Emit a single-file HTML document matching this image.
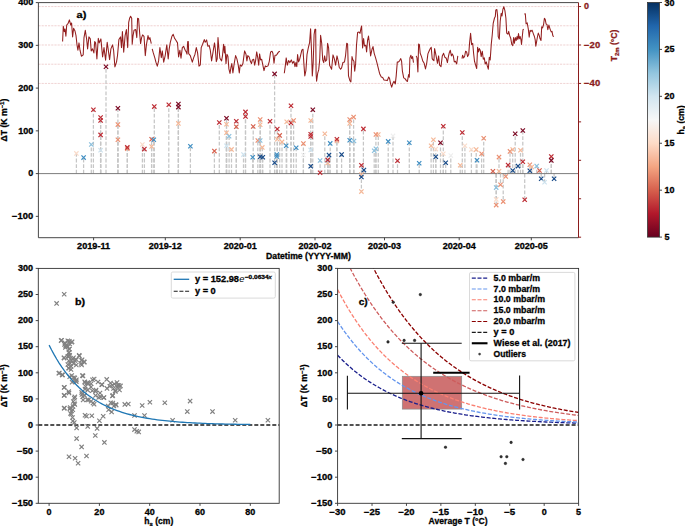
<!DOCTYPE html>
<html><head><meta charset="utf-8"><style>html,body{margin:0;padding:0;background:#fff;}svg{display:block;}</style></head>
<body><svg width="685" height="526" viewBox="0 0 685 526">
<rect width="685" height="526" fill="#fff"/>
<line x1="38.4" x2="578.5" y1="6.55" y2="6.55" stroke="#ebc4c4" stroke-width="0.75" stroke-dasharray="2.2 1.0"/>
<line x1="38.4" x2="578.5" y1="25.77" y2="25.77" stroke="#ebc4c4" stroke-width="0.75" stroke-dasharray="2.2 1.0"/>
<line x1="38.4" x2="578.5" y1="44.99" y2="44.99" stroke="#ebc4c4" stroke-width="0.75" stroke-dasharray="2.2 1.0"/>
<line x1="38.4" x2="578.5" y1="64.21" y2="64.21" stroke="#ebc4c4" stroke-width="0.75" stroke-dasharray="2.2 1.0"/>
<line x1="38.4" x2="578.5" y1="83.43" y2="83.43" stroke="#ebc4c4" stroke-width="0.75" stroke-dasharray="2.2 1.0"/>
<line x1="76.4" x2="76.4" y1="173.60" y2="153.40" stroke="#c6c6c6" stroke-width="1.25" stroke-dasharray="3.8 1.8"/>
<line x1="83.6" x2="83.6" y1="173.60" y2="157.60" stroke="#c6c6c6" stroke-width="1.25" stroke-dasharray="3.8 1.8"/>
<line x1="91.3" x2="91.3" y1="173.60" y2="144.50" stroke="#c6c6c6" stroke-width="1.25" stroke-dasharray="3.8 1.8"/>
<line x1="93.4" x2="93.4" y1="173.60" y2="109.70" stroke="#c6c6c6" stroke-width="1.25" stroke-dasharray="3.8 1.8"/>
<line x1="100.6" x2="100.6" y1="173.60" y2="117.50" stroke="#c6c6c6" stroke-width="1.25" stroke-dasharray="3.8 1.8"/>
<line x1="100.6" x2="100.6" y1="173.60" y2="120.50" stroke="#c6c6c6" stroke-width="1.25" stroke-dasharray="3.8 1.8"/>
<line x1="100.6" x2="100.6" y1="173.60" y2="134.90" stroke="#c6c6c6" stroke-width="1.25" stroke-dasharray="3.8 1.8"/>
<line x1="100.6" x2="100.6" y1="173.60" y2="150.30" stroke="#c6c6c6" stroke-width="1.25" stroke-dasharray="3.8 1.8"/>
<line x1="106" x2="106" y1="173.60" y2="66.70" stroke="#c6c6c6" stroke-width="1.25" stroke-dasharray="3.8 1.8"/>
<line x1="117.9" x2="117.9" y1="173.60" y2="108.20" stroke="#c6c6c6" stroke-width="1.25" stroke-dasharray="3.8 1.8"/>
<line x1="117.9" x2="117.9" y1="173.60" y2="124.60" stroke="#c6c6c6" stroke-width="1.25" stroke-dasharray="3.8 1.8"/>
<line x1="117.9" x2="117.9" y1="173.60" y2="139.70" stroke="#c6c6c6" stroke-width="1.25" stroke-dasharray="3.8 1.8"/>
<line x1="127.3" x2="127.3" y1="173.60" y2="148.70" stroke="#c6c6c6" stroke-width="1.25" stroke-dasharray="3.8 1.8"/>
<line x1="127.3" x2="127.3" y1="173.60" y2="147.40" stroke="#c6c6c6" stroke-width="1.25" stroke-dasharray="3.8 1.8"/>
<line x1="142.4" x2="142.4" y1="173.60" y2="144.50" stroke="#c6c6c6" stroke-width="1.25" stroke-dasharray="3.8 1.8"/>
<line x1="144.4" x2="144.4" y1="173.60" y2="149.10" stroke="#c6c6c6" stroke-width="1.25" stroke-dasharray="3.8 1.8"/>
<line x1="151.6" x2="151.6" y1="173.60" y2="146.50" stroke="#c6c6c6" stroke-width="1.25" stroke-dasharray="3.8 1.8"/>
<line x1="151.6" x2="151.6" y1="173.60" y2="139.30" stroke="#c6c6c6" stroke-width="1.25" stroke-dasharray="3.8 1.8"/>
<line x1="153.8" x2="153.8" y1="173.60" y2="139.70" stroke="#c6c6c6" stroke-width="1.25" stroke-dasharray="3.8 1.8"/>
<line x1="154.3" x2="154.3" y1="173.60" y2="106.60" stroke="#c6c6c6" stroke-width="1.25" stroke-dasharray="3.8 1.8"/>
<line x1="168.8" x2="168.8" y1="173.60" y2="104.70" stroke="#c6c6c6" stroke-width="1.25" stroke-dasharray="3.8 1.8"/>
<line x1="178.4" x2="178.4" y1="173.60" y2="107.10" stroke="#c6c6c6" stroke-width="1.25" stroke-dasharray="3.8 1.8"/>
<line x1="178.4" x2="178.4" y1="173.60" y2="104.00" stroke="#c6c6c6" stroke-width="1.25" stroke-dasharray="3.8 1.8"/>
<line x1="178.4" x2="178.4" y1="173.60" y2="123.40" stroke="#c6c6c6" stroke-width="1.25" stroke-dasharray="3.8 1.8"/>
<line x1="190.4" x2="190.4" y1="173.60" y2="146.20" stroke="#c6c6c6" stroke-width="1.25" stroke-dasharray="3.8 1.8"/>
<line x1="214.4" x2="214.4" y1="173.60" y2="151.10" stroke="#c6c6c6" stroke-width="1.25" stroke-dasharray="3.8 1.8"/>
<line x1="219.3" x2="219.3" y1="173.60" y2="122.50" stroke="#c6c6c6" stroke-width="1.25" stroke-dasharray="3.8 1.8"/>
<line x1="226.5" x2="226.5" y1="173.60" y2="132.80" stroke="#c6c6c6" stroke-width="1.25" stroke-dasharray="3.8 1.8"/>
<line x1="226.5" x2="226.5" y1="173.60" y2="124.20" stroke="#c6c6c6" stroke-width="1.25" stroke-dasharray="3.8 1.8"/>
<line x1="226.5" x2="226.5" y1="173.60" y2="118.30" stroke="#c6c6c6" stroke-width="1.25" stroke-dasharray="3.8 1.8"/>
<line x1="229.1" x2="229.1" y1="173.60" y2="136.20" stroke="#c6c6c6" stroke-width="1.25" stroke-dasharray="3.8 1.8"/>
<line x1="226.5" x2="226.5" y1="173.60" y2="145.70" stroke="#c6c6c6" stroke-width="1.25" stroke-dasharray="3.8 1.8"/>
<line x1="231.5" x2="231.5" y1="173.60" y2="149.40" stroke="#c6c6c6" stroke-width="1.25" stroke-dasharray="3.8 1.8"/>
<line x1="236.3" x2="236.3" y1="173.60" y2="121.20" stroke="#c6c6c6" stroke-width="1.25" stroke-dasharray="3.8 1.8"/>
<line x1="236.3" x2="236.3" y1="173.60" y2="126.80" stroke="#c6c6c6" stroke-width="1.25" stroke-dasharray="3.8 1.8"/>
<line x1="243.5" x2="243.5" y1="173.60" y2="154.60" stroke="#c6c6c6" stroke-width="1.25" stroke-dasharray="3.8 1.8"/>
<line x1="245.5" x2="245.5" y1="173.60" y2="111.90" stroke="#c6c6c6" stroke-width="1.25" stroke-dasharray="3.8 1.8"/>
<line x1="245.5" x2="245.5" y1="173.60" y2="116.50" stroke="#c6c6c6" stroke-width="1.25" stroke-dasharray="3.8 1.8"/>
<line x1="252.7" x2="252.7" y1="173.60" y2="157.30" stroke="#c6c6c6" stroke-width="1.25" stroke-dasharray="3.8 1.8"/>
<line x1="253.2" x2="253.2" y1="173.60" y2="126.50" stroke="#c6c6c6" stroke-width="1.25" stroke-dasharray="3.8 1.8"/>
<line x1="260.2" x2="260.2" y1="173.60" y2="124.80" stroke="#c6c6c6" stroke-width="1.25" stroke-dasharray="3.8 1.8"/>
<line x1="260.2" x2="260.2" y1="173.60" y2="119.50" stroke="#c6c6c6" stroke-width="1.25" stroke-dasharray="3.8 1.8"/>
<line x1="257.8" x2="257.8" y1="173.60" y2="140.50" stroke="#c6c6c6" stroke-width="1.25" stroke-dasharray="3.8 1.8"/>
<line x1="260.2" x2="260.2" y1="173.60" y2="140.50" stroke="#c6c6c6" stroke-width="1.25" stroke-dasharray="3.8 1.8"/>
<line x1="262.3" x2="262.3" y1="173.60" y2="147.40" stroke="#c6c6c6" stroke-width="1.25" stroke-dasharray="3.8 1.8"/>
<line x1="260.2" x2="260.2" y1="173.60" y2="156.80" stroke="#c6c6c6" stroke-width="1.25" stroke-dasharray="3.8 1.8"/>
<line x1="262.8" x2="262.8" y1="173.60" y2="157.30" stroke="#c6c6c6" stroke-width="1.25" stroke-dasharray="3.8 1.8"/>
<line x1="270" x2="270" y1="173.60" y2="121.20" stroke="#c6c6c6" stroke-width="1.25" stroke-dasharray="3.8 1.8"/>
<line x1="274.6" x2="274.6" y1="173.60" y2="73.90" stroke="#c6c6c6" stroke-width="1.25" stroke-dasharray="3.8 1.8"/>
<line x1="274.6" x2="274.6" y1="173.60" y2="162.80" stroke="#c6c6c6" stroke-width="1.25" stroke-dasharray="3.8 1.8"/>
<line x1="277.3" x2="277.3" y1="173.60" y2="129.00" stroke="#c6c6c6" stroke-width="1.25" stroke-dasharray="3.8 1.8"/>
<line x1="279.7" x2="279.7" y1="173.60" y2="135.40" stroke="#c6c6c6" stroke-width="1.25" stroke-dasharray="3.8 1.8"/>
<line x1="277.3" x2="277.3" y1="173.60" y2="139.30" stroke="#c6c6c6" stroke-width="1.25" stroke-dasharray="3.8 1.8"/>
<line x1="276.8" x2="276.8" y1="173.60" y2="154.50" stroke="#c6c6c6" stroke-width="1.25" stroke-dasharray="3.8 1.8"/>
<line x1="276.8" x2="276.8" y1="173.60" y2="156.50" stroke="#c6c6c6" stroke-width="1.25" stroke-dasharray="3.8 1.8"/>
<line x1="282" x2="282" y1="173.60" y2="141.90" stroke="#c6c6c6" stroke-width="1.25" stroke-dasharray="3.8 1.8"/>
<line x1="286.2" x2="286.2" y1="173.60" y2="145.70" stroke="#c6c6c6" stroke-width="1.25" stroke-dasharray="3.8 1.8"/>
<line x1="286.7" x2="286.7" y1="173.60" y2="121.70" stroke="#c6c6c6" stroke-width="1.25" stroke-dasharray="3.8 1.8"/>
<line x1="291" x2="291" y1="173.60" y2="105.80" stroke="#c6c6c6" stroke-width="1.25" stroke-dasharray="3.8 1.8"/>
<line x1="291" x2="291" y1="173.60" y2="122.90" stroke="#c6c6c6" stroke-width="1.25" stroke-dasharray="3.8 1.8"/>
<line x1="293.6" x2="293.6" y1="173.60" y2="120.50" stroke="#c6c6c6" stroke-width="1.25" stroke-dasharray="3.8 1.8"/>
<line x1="296.2" x2="296.2" y1="173.60" y2="147.70" stroke="#c6c6c6" stroke-width="1.25" stroke-dasharray="3.8 1.8"/>
<line x1="303.4" x2="303.4" y1="173.60" y2="143.60" stroke="#c6c6c6" stroke-width="1.25" stroke-dasharray="3.8 1.8"/>
<line x1="303.4" x2="303.4" y1="173.60" y2="155.00" stroke="#c6c6c6" stroke-width="1.25" stroke-dasharray="3.8 1.8"/>
<line x1="310.7" x2="310.7" y1="173.60" y2="149.90" stroke="#c6c6c6" stroke-width="1.25" stroke-dasharray="3.8 1.8"/>
<line x1="310.7" x2="310.7" y1="173.60" y2="120.50" stroke="#c6c6c6" stroke-width="1.25" stroke-dasharray="3.8 1.8"/>
<line x1="312.8" x2="312.8" y1="173.60" y2="109.70" stroke="#c6c6c6" stroke-width="1.25" stroke-dasharray="3.8 1.8"/>
<line x1="310.7" x2="310.7" y1="173.60" y2="134.20" stroke="#c6c6c6" stroke-width="1.25" stroke-dasharray="3.8 1.8"/>
<line x1="310.7" x2="310.7" y1="173.60" y2="136.50" stroke="#c6c6c6" stroke-width="1.25" stroke-dasharray="3.8 1.8"/>
<line x1="310.7" x2="310.7" y1="173.60" y2="166.20" stroke="#c6c6c6" stroke-width="1.25" stroke-dasharray="3.8 1.8"/>
<line x1="320.1" x2="320.1" y1="173.60" y2="160.50" stroke="#c6c6c6" stroke-width="1.25" stroke-dasharray="3.8 1.8"/>
<line x1="320.1" x2="320.1" y1="173.60" y2="172.70" stroke="#c6c6c6" stroke-width="1.25" stroke-dasharray="3.8 1.8"/>
<line x1="324.8" x2="324.8" y1="173.60" y2="133.70" stroke="#c6c6c6" stroke-width="1.25" stroke-dasharray="3.8 1.8"/>
<line x1="329" x2="329" y1="173.60" y2="155.10" stroke="#c6c6c6" stroke-width="1.25" stroke-dasharray="3.8 1.8"/>
<line x1="327.7" x2="327.7" y1="173.60" y2="163.00" stroke="#c6c6c6" stroke-width="1.25" stroke-dasharray="3.8 1.8"/>
<line x1="327.7" x2="327.7" y1="173.60" y2="160.50" stroke="#c6c6c6" stroke-width="1.25" stroke-dasharray="3.8 1.8"/>
<line x1="327.7" x2="327.7" y1="173.60" y2="159.90" stroke="#c6c6c6" stroke-width="1.25" stroke-dasharray="3.8 1.8"/>
<line x1="330.2" x2="330.2" y1="173.60" y2="143.40" stroke="#c6c6c6" stroke-width="1.25" stroke-dasharray="3.8 1.8"/>
<line x1="336.9" x2="336.9" y1="173.60" y2="141.00" stroke="#c6c6c6" stroke-width="1.25" stroke-dasharray="3.8 1.8"/>
<line x1="336.9" x2="336.9" y1="173.60" y2="139.30" stroke="#c6c6c6" stroke-width="1.25" stroke-dasharray="3.8 1.8"/>
<line x1="341.6" x2="341.6" y1="173.60" y2="154.60" stroke="#c6c6c6" stroke-width="1.25" stroke-dasharray="3.8 1.8"/>
<line x1="349.7" x2="349.7" y1="173.60" y2="123.40" stroke="#c6c6c6" stroke-width="1.25" stroke-dasharray="3.8 1.8"/>
<line x1="349.7" x2="349.7" y1="173.60" y2="119.50" stroke="#c6c6c6" stroke-width="1.25" stroke-dasharray="3.8 1.8"/>
<line x1="353.6" x2="353.6" y1="173.60" y2="117.10" stroke="#c6c6c6" stroke-width="1.25" stroke-dasharray="3.8 1.8"/>
<line x1="349.7" x2="349.7" y1="173.60" y2="140.20" stroke="#c6c6c6" stroke-width="1.25" stroke-dasharray="3.8 1.8"/>
<line x1="354" x2="354" y1="173.60" y2="141.00" stroke="#c6c6c6" stroke-width="1.25" stroke-dasharray="3.8 1.8"/>
<line x1="363.4" x2="363.4" y1="173.60" y2="128.90" stroke="#c6c6c6" stroke-width="1.25" stroke-dasharray="3.8 1.8"/>
<line x1="361.4" x2="361.4" y1="173.60" y2="165.30" stroke="#c6c6c6" stroke-width="1.25" stroke-dasharray="3.8 1.8"/>
<line x1="363.9" x2="363.9" y1="173.60" y2="170.10" stroke="#c6c6c6" stroke-width="1.25" stroke-dasharray="3.8 1.8"/>
<line x1="361.4" x2="361.4" y1="173.60" y2="174.50" stroke="#c6c6c6" stroke-width="1.25" stroke-dasharray="3.8 1.8"/>
<line x1="361.4" x2="361.4" y1="173.60" y2="177.00" stroke="#c6c6c6" stroke-width="1.25" stroke-dasharray="3.8 1.8"/>
<line x1="361.4" x2="361.4" y1="173.60" y2="191.60" stroke="#c6c6c6" stroke-width="1.25" stroke-dasharray="3.8 1.8"/>
<line x1="378.3" x2="378.3" y1="173.60" y2="134.50" stroke="#c6c6c6" stroke-width="1.25" stroke-dasharray="3.8 1.8"/>
<line x1="375.9" x2="375.9" y1="173.60" y2="134.50" stroke="#c6c6c6" stroke-width="1.25" stroke-dasharray="3.8 1.8"/>
<line x1="374.2" x2="374.2" y1="173.60" y2="150.80" stroke="#c6c6c6" stroke-width="1.25" stroke-dasharray="3.8 1.8"/>
<line x1="375.9" x2="375.9" y1="173.60" y2="148.70" stroke="#c6c6c6" stroke-width="1.25" stroke-dasharray="3.8 1.8"/>
<line x1="388.2" x2="388.2" y1="173.60" y2="141.40" stroke="#c6c6c6" stroke-width="1.25" stroke-dasharray="3.8 1.8"/>
<line x1="393" x2="393" y1="173.60" y2="135.90" stroke="#c6c6c6" stroke-width="1.25" stroke-dasharray="3.8 1.8"/>
<line x1="397.5" x2="397.5" y1="173.60" y2="160.70" stroke="#c6c6c6" stroke-width="1.25" stroke-dasharray="3.8 1.8"/>
<line x1="409.3" x2="409.3" y1="173.60" y2="142.70" stroke="#c6c6c6" stroke-width="1.25" stroke-dasharray="3.8 1.8"/>
<line x1="419.2" x2="419.2" y1="173.60" y2="163.20" stroke="#c6c6c6" stroke-width="1.25" stroke-dasharray="3.8 1.8"/>
<line x1="431.1" x2="431.1" y1="173.60" y2="145.70" stroke="#c6c6c6" stroke-width="1.25" stroke-dasharray="3.8 1.8"/>
<line x1="433.4" x2="433.4" y1="173.60" y2="139.70" stroke="#c6c6c6" stroke-width="1.25" stroke-dasharray="3.8 1.8"/>
<line x1="435.8" x2="435.8" y1="173.60" y2="149.10" stroke="#c6c6c6" stroke-width="1.25" stroke-dasharray="3.8 1.8"/>
<line x1="435.8" x2="435.8" y1="173.60" y2="156.80" stroke="#c6c6c6" stroke-width="1.25" stroke-dasharray="3.8 1.8"/>
<line x1="440.5" x2="440.5" y1="173.60" y2="142.70" stroke="#c6c6c6" stroke-width="1.25" stroke-dasharray="3.8 1.8"/>
<line x1="443.3" x2="443.3" y1="173.60" y2="126.30" stroke="#c6c6c6" stroke-width="1.25" stroke-dasharray="3.8 1.8"/>
<line x1="443.3" x2="443.3" y1="173.60" y2="153.70" stroke="#c6c6c6" stroke-width="1.25" stroke-dasharray="3.8 1.8"/>
<line x1="445.7" x2="445.7" y1="173.60" y2="162.80" stroke="#c6c6c6" stroke-width="1.25" stroke-dasharray="3.8 1.8"/>
<line x1="450.8" x2="450.8" y1="173.60" y2="155.60" stroke="#c6c6c6" stroke-width="1.25" stroke-dasharray="3.8 1.8"/>
<line x1="460.2" x2="460.2" y1="173.60" y2="165.30" stroke="#c6c6c6" stroke-width="1.25" stroke-dasharray="3.8 1.8"/>
<line x1="462.3" x2="462.3" y1="173.60" y2="132.50" stroke="#c6c6c6" stroke-width="1.25" stroke-dasharray="3.8 1.8"/>
<line x1="464.9" x2="464.9" y1="173.60" y2="145.70" stroke="#c6c6c6" stroke-width="1.25" stroke-dasharray="3.8 1.8"/>
<line x1="471.4" x2="471.4" y1="173.60" y2="149.60" stroke="#c6c6c6" stroke-width="1.25" stroke-dasharray="3.8 1.8"/>
<line x1="476.2" x2="476.2" y1="173.60" y2="149.60" stroke="#c6c6c6" stroke-width="1.25" stroke-dasharray="3.8 1.8"/>
<line x1="477" x2="477" y1="173.60" y2="160.20" stroke="#c6c6c6" stroke-width="1.25" stroke-dasharray="3.8 1.8"/>
<line x1="481.6" x2="481.6" y1="173.60" y2="153.70" stroke="#c6c6c6" stroke-width="1.25" stroke-dasharray="3.8 1.8"/>
<line x1="483.7" x2="483.7" y1="173.60" y2="138.30" stroke="#c6c6c6" stroke-width="1.25" stroke-dasharray="3.8 1.8"/>
<line x1="492.9" x2="492.9" y1="173.60" y2="171.20" stroke="#c6c6c6" stroke-width="1.25" stroke-dasharray="3.8 1.8"/>
<line x1="499" x2="499" y1="173.60" y2="157.10" stroke="#c6c6c6" stroke-width="1.25" stroke-dasharray="3.8 1.8"/>
<line x1="499" x2="499" y1="173.60" y2="171.20" stroke="#c6c6c6" stroke-width="1.25" stroke-dasharray="3.8 1.8"/>
<line x1="496.2" x2="496.2" y1="173.60" y2="187.60" stroke="#c6c6c6" stroke-width="1.25" stroke-dasharray="3.8 1.8"/>
<line x1="500.5" x2="500.5" y1="173.60" y2="184.70" stroke="#c6c6c6" stroke-width="1.25" stroke-dasharray="3.8 1.8"/>
<line x1="496.2" x2="496.2" y1="173.60" y2="199.40" stroke="#c6c6c6" stroke-width="1.25" stroke-dasharray="3.8 1.8"/>
<line x1="496.2" x2="496.2" y1="173.60" y2="205.10" stroke="#c6c6c6" stroke-width="1.25" stroke-dasharray="3.8 1.8"/>
<line x1="503.2" x2="503.2" y1="173.60" y2="201.60" stroke="#c6c6c6" stroke-width="1.25" stroke-dasharray="3.8 1.8"/>
<line x1="505.7" x2="505.7" y1="173.60" y2="176.50" stroke="#c6c6c6" stroke-width="1.25" stroke-dasharray="3.8 1.8"/>
<line x1="508.1" x2="508.1" y1="173.60" y2="165.10" stroke="#c6c6c6" stroke-width="1.25" stroke-dasharray="3.8 1.8"/>
<line x1="510" x2="510" y1="173.60" y2="151.40" stroke="#c6c6c6" stroke-width="1.25" stroke-dasharray="3.8 1.8"/>
<line x1="512.7" x2="512.7" y1="173.60" y2="149.50" stroke="#c6c6c6" stroke-width="1.25" stroke-dasharray="3.8 1.8"/>
<line x1="512.7" x2="512.7" y1="173.60" y2="170.50" stroke="#c6c6c6" stroke-width="1.25" stroke-dasharray="3.8 1.8"/>
<line x1="515.2" x2="515.2" y1="173.60" y2="133.80" stroke="#c6c6c6" stroke-width="1.25" stroke-dasharray="3.8 1.8"/>
<line x1="518" x2="518" y1="173.60" y2="166.10" stroke="#c6c6c6" stroke-width="1.25" stroke-dasharray="3.8 1.8"/>
<line x1="520.5" x2="520.5" y1="173.60" y2="150.30" stroke="#c6c6c6" stroke-width="1.25" stroke-dasharray="3.8 1.8"/>
<line x1="522.8" x2="522.8" y1="173.60" y2="130.50" stroke="#c6c6c6" stroke-width="1.25" stroke-dasharray="3.8 1.8"/>
<line x1="522.8" x2="522.8" y1="173.60" y2="161.70" stroke="#c6c6c6" stroke-width="1.25" stroke-dasharray="3.8 1.8"/>
<line x1="524.7" x2="524.7" y1="173.60" y2="199.70" stroke="#c6c6c6" stroke-width="1.25" stroke-dasharray="3.8 1.8"/>
<line x1="529.8" x2="529.8" y1="173.60" y2="164.80" stroke="#c6c6c6" stroke-width="1.25" stroke-dasharray="3.8 1.8"/>
<line x1="529.8" x2="529.8" y1="173.60" y2="170.80" stroke="#c6c6c6" stroke-width="1.25" stroke-dasharray="3.8 1.8"/>
<line x1="531.7" x2="531.7" y1="173.60" y2="167.00" stroke="#c6c6c6" stroke-width="1.25" stroke-dasharray="3.8 1.8"/>
<line x1="536.7" x2="536.7" y1="173.60" y2="166.10" stroke="#c6c6c6" stroke-width="1.25" stroke-dasharray="3.8 1.8"/>
<line x1="539.5" x2="539.5" y1="173.60" y2="170.50" stroke="#c6c6c6" stroke-width="1.25" stroke-dasharray="3.8 1.8"/>
<line x1="541.2" x2="541.2" y1="173.60" y2="178.80" stroke="#c6c6c6" stroke-width="1.25" stroke-dasharray="3.8 1.8"/>
<line x1="544.6" x2="544.6" y1="173.60" y2="182.20" stroke="#c6c6c6" stroke-width="1.25" stroke-dasharray="3.8 1.8"/>
<line x1="546.5" x2="546.5" y1="173.60" y2="170.50" stroke="#c6c6c6" stroke-width="1.25" stroke-dasharray="3.8 1.8"/>
<line x1="551.3" x2="551.3" y1="173.60" y2="156.60" stroke="#c6c6c6" stroke-width="1.25" stroke-dasharray="3.8 1.8"/>
<line x1="551.3" x2="551.3" y1="173.60" y2="160.40" stroke="#c6c6c6" stroke-width="1.25" stroke-dasharray="3.8 1.8"/>
<line x1="554.1" x2="554.1" y1="173.60" y2="178.80" stroke="#c6c6c6" stroke-width="1.25" stroke-dasharray="3.8 1.8"/>
<line x1="38.4" x2="578.5" y1="173.60" y2="173.60" stroke="#6e6e6e" stroke-width="0.9"/>
<path d="M74.25 151.25L78.55 155.55M74.25 155.55L78.55 151.25" stroke="#fadccb" stroke-width="1.2" fill="none"/>
<path d="M81.45 155.45L85.75 159.75M81.45 159.75L85.75 155.45" stroke="#3f8ec2" stroke-width="1.2" fill="none"/>
<path d="M89.15 142.35L93.45 146.65M89.15 146.65L93.45 142.35" stroke="#8cc0dd" stroke-width="1.2" fill="none"/>
<path d="M91.25 107.55L95.55 111.85M91.25 111.85L95.55 107.55" stroke="#bd2b33" stroke-width="1.2" fill="none"/>
<path d="M98.45 115.35L102.75 119.65M98.45 119.65L102.75 115.35" stroke="#bd2b33" stroke-width="1.2" fill="none"/>
<path d="M98.45 118.35L102.75 122.65M98.45 122.65L102.75 118.35" stroke="#bd2b33" stroke-width="1.2" fill="none"/>
<path d="M98.45 132.75L102.75 137.05M98.45 137.05L102.75 132.75" stroke="#bd2b33" stroke-width="1.2" fill="none"/>
<path d="M98.45 148.15L102.75 152.45M98.45 152.45L102.75 148.15" stroke="#cde2ee" stroke-width="1.2" fill="none"/>
<path d="M103.85 64.55L108.15 68.85M103.85 68.85L108.15 64.55" stroke="#7c0a24" stroke-width="1.2" fill="none"/>
<path d="M115.75 106.05L120.05 110.35M115.75 110.35L120.05 106.05" stroke="#7c0a24" stroke-width="1.2" fill="none"/>
<path d="M115.75 122.45L120.05 126.75M115.75 126.75L120.05 122.45" stroke="#eb9072" stroke-width="1.2" fill="none"/>
<path d="M115.75 137.55L120.05 141.85M115.75 141.85L120.05 137.55" stroke="#eb9072" stroke-width="1.2" fill="none"/>
<path d="M125.15 146.55L129.45 150.85M125.15 150.85L129.45 146.55" stroke="#eb9072" stroke-width="1.2" fill="none"/>
<path d="M125.15 145.25L129.45 149.55M125.15 149.55L129.45 145.25" stroke="#bd2b33" stroke-width="1.2" fill="none"/>
<path d="M140.25 142.35L144.55 146.65M140.25 146.65L144.55 142.35" stroke="#fadccb" stroke-width="1.2" fill="none"/>
<path d="M142.25 146.95L146.55 151.25M142.25 151.25L146.55 146.95" stroke="#bd2b33" stroke-width="1.2" fill="none"/>
<path d="M149.45 144.35L153.75 148.65M149.45 148.65L153.75 144.35" stroke="#f5b898" stroke-width="1.2" fill="none"/>
<path d="M149.45 137.15L153.75 141.45M149.45 141.45L153.75 137.15" stroke="#d6604d" stroke-width="1.2" fill="none"/>
<path d="M151.65 137.55L155.95 141.85M151.65 141.85L155.95 137.55" stroke="#3f8ec2" stroke-width="1.2" fill="none"/>
<path d="M152.15 104.45L156.45 108.75M152.15 108.75L156.45 104.45" stroke="#bd2b33" stroke-width="1.2" fill="none"/>
<path d="M166.65 102.55L170.95 106.85M166.65 106.85L170.95 102.55" stroke="#bd2b33" stroke-width="1.2" fill="none"/>
<path d="M176.25 104.95L180.55 109.25M176.25 109.25L180.55 104.95" stroke="#7c0a24" stroke-width="1.2" fill="none"/>
<path d="M176.25 101.85L180.55 106.15M176.25 106.15L180.55 101.85" stroke="#7c0a24" stroke-width="1.2" fill="none"/>
<path d="M176.25 121.25L180.55 125.55M176.25 125.55L180.55 121.25" stroke="#f5b898" stroke-width="1.2" fill="none"/>
<path d="M188.25 144.05L192.55 148.35M188.25 148.35L192.55 144.05" stroke="#3f8ec2" stroke-width="1.2" fill="none"/>
<path d="M212.25 148.95L216.55 153.25M212.25 153.25L216.55 148.95" stroke="#d6604d" stroke-width="1.2" fill="none"/>
<path d="M217.15 120.35L221.45 124.65M217.15 124.65L221.45 120.35" stroke="#bd2b33" stroke-width="1.2" fill="none"/>
<path d="M224.35 130.65L228.65 134.95M224.35 134.95L228.65 130.65" stroke="#f5b898" stroke-width="1.2" fill="none"/>
<path d="M224.35 122.05L228.65 126.35M224.35 126.35L228.65 122.05" stroke="#f5b898" stroke-width="1.2" fill="none"/>
<path d="M224.35 116.15L228.65 120.45M224.35 120.45L228.65 116.15" stroke="#7c0a24" stroke-width="1.2" fill="none"/>
<path d="M226.95 134.05L231.25 138.35M226.95 138.35L231.25 134.05" stroke="#8cc0dd" stroke-width="1.2" fill="none"/>
<path d="M224.35 143.55L228.65 147.85M224.35 147.85L228.65 143.55" stroke="#cde2ee" stroke-width="1.2" fill="none"/>
<path d="M229.35 147.25L233.65 151.55M229.35 151.55L233.65 147.25" stroke="#f5b898" stroke-width="1.2" fill="none"/>
<path d="M234.15 119.05L238.45 123.35M234.15 123.35L238.45 119.05" stroke="#bd2b33" stroke-width="1.2" fill="none"/>
<path d="M234.15 124.65L238.45 128.95M234.15 128.95L238.45 124.65" stroke="#d6604d" stroke-width="1.2" fill="none"/>
<path d="M241.35 152.45L245.65 156.75M241.35 156.75L245.65 152.45" stroke="#cde2ee" stroke-width="1.2" fill="none"/>
<path d="M243.35 109.75L247.65 114.05M243.35 114.05L247.65 109.75" stroke="#bd2b33" stroke-width="1.2" fill="none"/>
<path d="M243.35 114.35L247.65 118.65M243.35 118.65L247.65 114.35" stroke="#bd2b33" stroke-width="1.2" fill="none"/>
<path d="M250.55 155.15L254.85 159.45M250.55 159.45L254.85 155.15" stroke="#3f8ec2" stroke-width="1.2" fill="none"/>
<path d="M251.05 124.35L255.35 128.65M251.05 128.65L255.35 124.35" stroke="#d6604d" stroke-width="1.2" fill="none"/>
<path d="M258.05 122.65L262.35 126.95M258.05 126.95L262.35 122.65" stroke="#f5b898" stroke-width="1.2" fill="none"/>
<path d="M258.05 117.35L262.35 121.65M258.05 121.65L262.35 117.35" stroke="#eb9072" stroke-width="1.2" fill="none"/>
<path d="M255.65 138.35L259.95 142.65M255.65 142.65L259.95 138.35" stroke="#eb9072" stroke-width="1.2" fill="none"/>
<path d="M258.05 138.35L262.35 142.65M258.05 142.65L262.35 138.35" stroke="#8cc0dd" stroke-width="1.2" fill="none"/>
<path d="M260.15 145.25L264.45 149.55M260.15 149.55L264.45 145.25" stroke="#f5b898" stroke-width="1.2" fill="none"/>
<path d="M258.05 154.65L262.35 158.95M258.05 158.95L262.35 154.65" stroke="#174a88" stroke-width="1.2" fill="none"/>
<path d="M260.65 155.15L264.95 159.45M260.65 159.45L264.95 155.15" stroke="#174a88" stroke-width="1.2" fill="none"/>
<path d="M267.85 119.05L272.15 123.35M267.85 123.35L272.15 119.05" stroke="#bd2b33" stroke-width="1.2" fill="none"/>
<path d="M272.45 71.75L276.75 76.05M272.45 76.05L276.75 71.75" stroke="#7c0a24" stroke-width="1.2" fill="none"/>
<path d="M272.45 160.65L276.75 164.95M272.45 164.95L276.75 160.65" stroke="#174a88" stroke-width="1.2" fill="none"/>
<path d="M275.15 126.85L279.45 131.15M275.15 131.15L279.45 126.85" stroke="#bd2b33" stroke-width="1.2" fill="none"/>
<path d="M277.55 133.25L281.85 137.55M277.55 137.55L281.85 133.25" stroke="#d6604d" stroke-width="1.2" fill="none"/>
<path d="M275.15 137.15L279.45 141.45M275.15 141.45L279.45 137.15" stroke="#f5b898" stroke-width="1.2" fill="none"/>
<path d="M274.65 152.35L278.95 156.65M274.65 156.65L278.95 152.35" stroke="#3f8ec2" stroke-width="1.2" fill="none"/>
<path d="M274.65 154.35L278.95 158.65M274.65 158.65L278.95 154.35" stroke="#3f8ec2" stroke-width="1.2" fill="none"/>
<path d="M279.85 139.75L284.15 144.05M279.85 144.05L284.15 139.75" stroke="#f5b898" stroke-width="1.2" fill="none"/>
<path d="M284.05 143.55L288.35 147.85M284.05 147.85L288.35 143.55" stroke="#3f8ec2" stroke-width="1.2" fill="none"/>
<path d="M284.55 119.55L288.85 123.85M284.55 123.85L288.85 119.55" stroke="#f5b898" stroke-width="1.2" fill="none"/>
<path d="M288.85 103.65L293.15 107.95M288.85 107.95L293.15 103.65" stroke="#bd2b33" stroke-width="1.2" fill="none"/>
<path d="M288.85 120.75L293.15 125.05M288.85 125.05L293.15 120.75" stroke="#bd2b33" stroke-width="1.2" fill="none"/>
<path d="M291.45 118.35L295.75 122.65M291.45 122.65L295.75 118.35" stroke="#eb9072" stroke-width="1.2" fill="none"/>
<path d="M294.05 145.55L298.35 149.85M294.05 149.85L298.35 145.55" stroke="#3f8ec2" stroke-width="1.2" fill="none"/>
<path d="M301.25 141.45L305.55 145.75M301.25 145.75L305.55 141.45" stroke="#eb9072" stroke-width="1.2" fill="none"/>
<path d="M301.25 152.85L305.55 157.15M301.25 157.15L305.55 152.85" stroke="#efefef" stroke-width="1.2" fill="none"/>
<path d="M308.55 147.75L312.85 152.05M308.55 152.05L312.85 147.75" stroke="#cde2ee" stroke-width="1.2" fill="none"/>
<path d="M308.55 118.35L312.85 122.65M308.55 122.65L312.85 118.35" stroke="#f5b898" stroke-width="1.2" fill="none"/>
<path d="M310.65 107.55L314.95 111.85M310.65 111.85L314.95 107.55" stroke="#7c0a24" stroke-width="1.2" fill="none"/>
<path d="M308.55 132.05L312.85 136.35M308.55 136.35L312.85 132.05" stroke="#bd2b33" stroke-width="1.2" fill="none"/>
<path d="M308.55 134.35L312.85 138.65M308.55 138.65L312.85 134.35" stroke="#bd2b33" stroke-width="1.2" fill="none"/>
<path d="M308.55 164.05L312.85 168.35M308.55 168.35L312.85 164.05" stroke="#174a88" stroke-width="1.2" fill="none"/>
<path d="M317.95 158.35L322.25 162.65M317.95 162.65L322.25 158.35" stroke="#8cc0dd" stroke-width="1.2" fill="none"/>
<path d="M317.95 170.55L322.25 174.85M317.95 174.85L322.25 170.55" stroke="#bd2b33" stroke-width="1.2" fill="none"/>
<path d="M322.65 131.55L326.95 135.85M322.65 135.85L326.95 131.55" stroke="#f5b898" stroke-width="1.2" fill="none"/>
<path d="M326.85 152.95L331.15 157.25M326.85 157.25L331.15 152.95" stroke="#174a88" stroke-width="1.2" fill="none"/>
<path d="M325.55 160.85L329.85 165.15M325.55 165.15L329.85 160.85" stroke="#f5b898" stroke-width="1.2" fill="none"/>
<path d="M325.55 158.35L329.85 162.65M325.55 162.65L329.85 158.35" stroke="#8cc0dd" stroke-width="1.2" fill="none"/>
<path d="M325.55 157.75L329.85 162.05M325.55 162.05L329.85 157.75" stroke="#bd2b33" stroke-width="1.2" fill="none"/>
<path d="M328.05 141.25L332.35 145.55M328.05 145.55L332.35 141.25" stroke="#3f8ec2" stroke-width="1.2" fill="none"/>
<path d="M334.75 138.85L339.05 143.15M334.75 143.15L339.05 138.85" stroke="#f5b898" stroke-width="1.2" fill="none"/>
<path d="M334.75 137.15L339.05 141.45M334.75 141.45L339.05 137.15" stroke="#bd2b33" stroke-width="1.2" fill="none"/>
<path d="M339.45 152.45L343.75 156.75M339.45 156.75L343.75 152.45" stroke="#174a88" stroke-width="1.2" fill="none"/>
<path d="M347.55 121.25L351.85 125.55M347.55 125.55L351.85 121.25" stroke="#f5b898" stroke-width="1.2" fill="none"/>
<path d="M347.55 117.35L351.85 121.65M347.55 121.65L351.85 117.35" stroke="#eb9072" stroke-width="1.2" fill="none"/>
<path d="M351.45 114.95L355.75 119.25M351.45 119.25L355.75 114.95" stroke="#eb9072" stroke-width="1.2" fill="none"/>
<path d="M347.55 138.05L351.85 142.35M347.55 142.35L351.85 138.05" stroke="#3f8ec2" stroke-width="1.2" fill="none"/>
<path d="M351.85 138.85L356.15 143.15M351.85 143.15L356.15 138.85" stroke="#8cc0dd" stroke-width="1.2" fill="none"/>
<path d="M361.25 126.75L365.55 131.05M361.25 131.05L365.55 126.75" stroke="#bd2b33" stroke-width="1.2" fill="none"/>
<path d="M359.25 163.15L363.55 167.45M359.25 167.45L363.55 163.15" stroke="#bd2b33" stroke-width="1.2" fill="none"/>
<path d="M361.75 167.95L366.05 172.25M361.75 172.25L366.05 167.95" stroke="#174a88" stroke-width="1.2" fill="none"/>
<path d="M359.25 172.35L363.55 176.65M359.25 176.65L363.55 172.35" stroke="#f5b898" stroke-width="1.2" fill="none"/>
<path d="M359.25 174.85L363.55 179.15M359.25 179.15L363.55 174.85" stroke="#174a88" stroke-width="1.2" fill="none"/>
<path d="M359.25 189.45L363.55 193.75M359.25 193.75L363.55 189.45" stroke="#f5b898" stroke-width="1.2" fill="none"/>
<path d="M376.15 132.35L380.45 136.65M376.15 136.65L380.45 132.35" stroke="#f5b898" stroke-width="1.2" fill="none"/>
<path d="M373.75 132.35L378.05 136.65M373.75 136.65L378.05 132.35" stroke="#eb9072" stroke-width="1.2" fill="none"/>
<path d="M372.05 148.65L376.35 152.95M372.05 152.95L376.35 148.65" stroke="#8cc0dd" stroke-width="1.2" fill="none"/>
<path d="M373.75 146.55L378.05 150.85M373.75 150.85L378.05 146.55" stroke="#8cc0dd" stroke-width="1.2" fill="none"/>
<path d="M386.05 139.25L390.35 143.55M386.05 143.55L390.35 139.25" stroke="#3f8ec2" stroke-width="1.2" fill="none"/>
<path d="M390.85 133.75L395.15 138.05M390.85 138.05L395.15 133.75" stroke="#efefef" stroke-width="1.2" fill="none"/>
<path d="M395.35 158.55L399.65 162.85M395.35 162.85L399.65 158.55" stroke="#bd2b33" stroke-width="1.2" fill="none"/>
<path d="M407.15 140.55L411.45 144.85M407.15 144.85L411.45 140.55" stroke="#3f8ec2" stroke-width="1.2" fill="none"/>
<path d="M417.05 161.05L421.35 165.35M417.05 165.35L421.35 161.05" stroke="#3f8ec2" stroke-width="1.2" fill="none"/>
<path d="M428.95 143.55L433.25 147.85M428.95 147.85L433.25 143.55" stroke="#f5b898" stroke-width="1.2" fill="none"/>
<path d="M431.25 137.55L435.55 141.85M431.25 141.85L435.55 137.55" stroke="#f5b898" stroke-width="1.2" fill="none"/>
<path d="M433.65 146.95L437.95 151.25M433.65 151.25L437.95 146.95" stroke="#fadccb" stroke-width="1.2" fill="none"/>
<path d="M433.65 154.65L437.95 158.95M433.65 158.95L437.95 154.65" stroke="#174a88" stroke-width="1.2" fill="none"/>
<path d="M438.35 140.55L442.65 144.85M438.35 144.85L442.65 140.55" stroke="#7c0a24" stroke-width="1.2" fill="none"/>
<path d="M441.15 124.15L445.45 128.45M441.15 128.45L445.45 124.15" stroke="#bd2b33" stroke-width="1.2" fill="none"/>
<path d="M441.15 151.55L445.45 155.85M441.15 155.85L445.45 151.55" stroke="#fadccb" stroke-width="1.2" fill="none"/>
<path d="M443.55 160.65L447.85 164.95M443.55 164.95L447.85 160.65" stroke="#174a88" stroke-width="1.2" fill="none"/>
<path d="M448.65 153.45L452.95 157.75M448.65 157.75L452.95 153.45" stroke="#efefef" stroke-width="1.2" fill="none"/>
<path d="M458.05 163.15L462.35 167.45M458.05 167.45L462.35 163.15" stroke="#f5b898" stroke-width="1.2" fill="none"/>
<path d="M460.15 130.35L464.45 134.65M460.15 134.65L464.45 130.35" stroke="#bd2b33" stroke-width="1.2" fill="none"/>
<path d="M462.75 143.55L467.05 147.85M462.75 147.85L467.05 143.55" stroke="#fadccb" stroke-width="1.2" fill="none"/>
<path d="M469.25 147.45L473.55 151.75M469.25 151.75L473.55 147.45" stroke="#fadccb" stroke-width="1.2" fill="none"/>
<path d="M474.05 147.45L478.35 151.75M474.05 151.75L478.35 147.45" stroke="#f5b898" stroke-width="1.2" fill="none"/>
<path d="M474.85 158.05L479.15 162.35M474.85 162.35L479.15 158.05" stroke="#3f8ec2" stroke-width="1.2" fill="none"/>
<path d="M479.45 151.55L483.75 155.85M479.45 155.85L483.75 151.55" stroke="#eb9072" stroke-width="1.2" fill="none"/>
<path d="M481.55 136.15L485.85 140.45M481.55 140.45L485.85 136.15" stroke="#eb9072" stroke-width="1.2" fill="none"/>
<path d="M490.75 169.05L495.05 173.35M490.75 173.35L495.05 169.05" stroke="#d6604d" stroke-width="1.2" fill="none"/>
<path d="M496.85 154.95L501.15 159.25M496.85 159.25L501.15 154.95" stroke="#eb9072" stroke-width="1.2" fill="none"/>
<path d="M496.85 169.05L501.15 173.35M496.85 173.35L501.15 169.05" stroke="#f5b898" stroke-width="1.2" fill="none"/>
<path d="M494.05 185.45L498.35 189.75M494.05 189.75L498.35 185.45" stroke="#8cc0dd" stroke-width="1.2" fill="none"/>
<path d="M498.35 182.55L502.65 186.85M498.35 186.85L502.65 182.55" stroke="#eb9072" stroke-width="1.2" fill="none"/>
<path d="M494.05 197.25L498.35 201.55M494.05 201.55L498.35 197.25" stroke="#fadccb" stroke-width="1.2" fill="none"/>
<path d="M494.05 202.95L498.35 207.25M494.05 207.25L498.35 202.95" stroke="#eb9072" stroke-width="1.2" fill="none"/>
<path d="M501.05 199.45L505.35 203.75M501.05 203.75L505.35 199.45" stroke="#eb9072" stroke-width="1.2" fill="none"/>
<path d="M503.55 174.35L507.85 178.65M503.55 178.65L507.85 174.35" stroke="#eb9072" stroke-width="1.2" fill="none"/>
<path d="M505.95 162.95L510.25 167.25M505.95 167.25L510.25 162.95" stroke="#bd2b33" stroke-width="1.2" fill="none"/>
<path d="M507.85 149.25L512.15 153.55M507.85 153.55L512.15 149.25" stroke="#eb9072" stroke-width="1.2" fill="none"/>
<path d="M510.55 147.35L514.85 151.65M510.55 151.65L514.85 147.35" stroke="#f5b898" stroke-width="1.2" fill="none"/>
<path d="M510.55 168.35L514.85 172.65M510.55 172.65L514.85 168.35" stroke="#174a88" stroke-width="1.2" fill="none"/>
<path d="M513.05 131.65L517.35 135.95M513.05 135.95L517.35 131.65" stroke="#7c0a24" stroke-width="1.2" fill="none"/>
<path d="M515.85 163.95L520.15 168.25M515.85 168.25L520.15 163.95" stroke="#174a88" stroke-width="1.2" fill="none"/>
<path d="M518.35 148.15L522.65 152.45M518.35 152.45L522.65 148.15" stroke="#f5b898" stroke-width="1.2" fill="none"/>
<path d="M520.65 128.35L524.95 132.65M520.65 132.65L524.95 128.35" stroke="#7c0a24" stroke-width="1.2" fill="none"/>
<path d="M520.65 159.55L524.95 163.85M520.65 163.85L524.95 159.55" stroke="#bd2b33" stroke-width="1.2" fill="none"/>
<path d="M522.55 197.55L526.85 201.85M522.55 201.85L526.85 197.55" stroke="#bd2b33" stroke-width="1.2" fill="none"/>
<path d="M527.65 162.65L531.95 166.95M527.65 166.95L531.95 162.65" stroke="#eb9072" stroke-width="1.2" fill="none"/>
<path d="M527.65 168.65L531.95 172.95M527.65 172.95L531.95 168.65" stroke="#174a88" stroke-width="1.2" fill="none"/>
<path d="M529.55 164.85L533.85 169.15M529.55 169.15L533.85 164.85" stroke="#f5b898" stroke-width="1.2" fill="none"/>
<path d="M534.55 163.95L538.85 168.25M534.55 168.25L538.85 163.95" stroke="#8cc0dd" stroke-width="1.2" fill="none"/>
<path d="M537.35 168.35L541.65 172.65M537.35 172.65L541.65 168.35" stroke="#d6604d" stroke-width="1.2" fill="none"/>
<path d="M539.05 176.65L543.35 180.95M539.05 180.95L543.35 176.65" stroke="#174a88" stroke-width="1.2" fill="none"/>
<path d="M542.45 180.05L546.75 184.35M542.45 184.35L546.75 180.05" stroke="#cde2ee" stroke-width="1.2" fill="none"/>
<path d="M544.35 168.35L548.65 172.65M544.35 172.65L548.65 168.35" stroke="#cde2ee" stroke-width="1.2" fill="none"/>
<path d="M549.15 154.45L553.45 158.75M549.15 158.75L553.45 154.45" stroke="#bd2b33" stroke-width="1.2" fill="none"/>
<path d="M549.15 158.25L553.45 162.55M549.15 162.55L553.45 158.25" stroke="#7c0a24" stroke-width="1.2" fill="none"/>
<path d="M551.95 176.65L556.25 180.95M551.95 180.95L556.25 176.65" stroke="#174a88" stroke-width="1.2" fill="none"/>
<path d="M62.6,41.6 L63.3,26.3 L64.3,31.6 L65.0,29.0 L65.9,36.3 L66.7,25.0 L68.0,23.6 L69.4,19.9 L70.7,25.0 L71.6,23.0 L72.6,36.9 L73.6,28.3 L75.0,31.0 L76.0,35.6 L77.0,44.9 L77.9,50.2 L79.0,42.9 L80.0,50.2 L81.4,56.2 L83.2,54.9 L84.0,37.6 L85.3,30.3 L86.7,39.6 L87.6,48.9 L88.9,36.9 L90.3,38.9 L91.2,50.9 L92.5,48.9 L93.9,52.9 L94.7,41.6 L95.6,42.9 L96.9,58.9 L98.3,38.3 L99.3,42.9 L100.9,38.9 L102.6,56.9 L104.0,47.6 L105.6,60.2 L107.2,42.3 L108.5,51.6 L109.6,59.6 L110.9,48.9 L112.5,44.9 L113.6,50.2 L114.9,66.9 L116.5,62.2 L117.5,55.6 L118.9,39.6 L120.5,36.9 L121.5,47.6 L122.4,31.6 L123.7,52.2 L125.1,35.6 L126.4,29.6 L127.7,47.6 L128.7,22.3 L129.6,18.3 L130.6,16.3 L131.7,18.3 L132.2,44.3 L133.0,36.0 L134.0,30.3 L135.7,29.6 L136.8,37.6 L137.6,18.3 L138.6,18.7 L139.7,33.6 L140.6,43.6 L141.6,37.6 L142.6,34.9 L144.0,36.3 L145.3,55.6 L146.4,44.9 L148.0,35.6 L149.0,39.6 L149.9,37.6 L151.3,43.6" stroke="#931e1e" stroke-width="1.05" fill="none" stroke-linejoin="round"/>
<path d="M152.2,48.9 L153.3,52.9 L154.9,58.2 L155.9,62.2 L157.3,66.2 L158.6,60.9 L159.9,47.6 L161.3,57.6 L162.3,50.9 L163.7,62.2 L165.2,55.6 L166.8,44.9 L168.2,58.9 L169.2,48.9 L170.3,42.3 L171.9,36.3 L173.2,34.3 L174.6,38.3 L175.9,40.3 L177.5,42.9 L178.6,56.9 L179.9,50.2 L181.0,58.2 L182.3,47.6 L183.6,46.3 L185.2,50.2 L186.1,51.6 L187.0,54.2 L187.7,41.6 L188.3,41.6 L188.7,53.6 L190.3,55.6 L192.3,62.2 L193.7,57.6 L195.0,54.2 L196.3,47.6 L197.6,52.9 L199.0,66.2 L200.3,64.9 L201.2,47.6 L202.6,44.3 L204.3,39.6 L205.2,42.3 L206.6,39.9 L207.9,46.3 L209.2,45.6 L210.3,50.2 L211.6,60.9 L212.9,52.9 L214.5,42.9 L215.3,48.9 L216.3,61.6 L217.2,58.9 L218.0,37.6 L218.9,48.9 L219.9,58.2 L221.6,60.9 L222.5,55.6 L223.6,44.3 L224.4,52.9 L224.9,46.3 L226.0,63.6 L226.9,54.2 L227.9,56.2 L228.9,68.9 L230.0,73.5 L230.9,67.6 L231.8,63.6 L232.9,72.9 L234.2,63.6 L235.6,55.6 L236.9,58.9 L238.2,64.9 L239.3,72.9 L240.2,64.9 L241.6,66.2 L242.9,63.6 L244.6,50.9 L246.0,54.2 L246.9,60.9 L247.8,55.6 L249.1,56.9 L250.5,61.6 L251.5,63.6 L252.4,59.9 L253.7,59.3 L254.7,65.2 L255.6,60.6 L256.7,51.9 L257.7,57.3 L258.7,65.2 L259.6,53.9 L260.6,59.9 L261.7,59.3 L262.6,63.9 L264.0,70.6 L265.3,65.9 L266.6,66.6 L268.0,65.9 L269.3,61.3 L270.6,51.9 L272.0,51.3 L272.9,53.3 L274.0,63.3 L275.0,55.3 L276.4,55.3 L277.3,53.9 L278.6,51.9 L279.9,51.3" stroke="#931e1e" stroke-width="1.05" fill="none" stroke-linejoin="round"/>
<path d="M284.3,73.2 L285.3,65.9 L286.2,57.9 L287.3,65.2 L288.6,60.6 L289.9,62.6 L291.3,59.9 L292.6,63.3 L293.9,61.3 L295.0,66.6 L295.9,62.6 L296.8,66.6 L297.6,54.6 L298.6,61.9 L299.5,59.9 L300.6,55.3 L301.9,49.9 L303.0,49.3 L303.9,63.9 L304.8,75.9 L305.9,70.6 L307.0,54.6 L308.3,47.9 L309.6,42.6 L310.6,28.7 L311.5,50.6 L312.3,75.9 L313.2,62.6 L314.1,34.6 L314.9,29.3 L315.7,29.3 L316.1,73.2 L316.6,81.2 L317.7,73.2 L318.7,69.9 L319.7,59.9 L320.6,35.3 L321.7,43.3 L322.7,59.9 L323.7,62.6 L324.6,55.9 L325.6,61.3 L326.7,59.9 L327.6,43.3 L328.6,47.9 L329.6,65.2 L331.6,69.2 L333.0,54.9 L334.3,58.6 L335.6,65.2 L337.0,55.9 L338.3,61.3 L339.2,67.2 L340.6,69.2 L341.6,67.9 L342.9,62.6 L344.5,61.9 L345.6,55.3 L346.7,43.3 L347.6,43.9 L348.5,75.9 L349.9,80.6 L350.9,81.9 L352.0,56.6 L352.9,59.9 L353.9,61.3 L354.7,71.2 L355.6,63.9 L356.5,45.3 L357.6,32.6 L358.9,32.0 L360.0,33.3 L360.9,28.7 L361.6,26.0 L362.6,47.9 L363.6,38.6 L364.5,46.0 L365.8,45.3 L366.6,51.9 L367.6,40.0 L368.5,36.0 L369.6,45.3 L370.6,55.9 L372.0,49.3 L373.0,46.6 L374.2,53.3 L375.6,57.9 L376.9,62.6 L378.2,67.9 L379.5,73.2 L380.0,74.6 L381.3,77.0 L382.7,77.5 L384.0,79.9 L386.0,80.2 L387.3,80.6 L388.7,77.0 L389.6,78.6 L390.6,83.9 L391.7,87.2 L392.8,83.6 L394.0,81.2 L395.3,83.9 L396.2,75.9 L397.3,61.9 L398.6,61.9 L399.7,60.6 L400.8,58.6 L401.6,61.3 L402.4,71.2 L403.7,77.9 L405.0,78.6 L406.4,80.6 L407.4,81.5 L408.6,74.6 L409.3,77.2 L409.9,57.9 L410.9,55.3 L411.7,58.6 L412.6,56.6 L413.5,62.6" stroke="#931e1e" stroke-width="1.05" fill="none" stroke-linejoin="round"/>
<path d="M416.2,55.9 L417.0,57.9 L417.9,71.9 L418.6,44.0 L419.4,44.6 L420.2,53.3 L421.5,56.6 L422.9,61.3 L424.2,63.3 L425.5,69.0 L426.8,62.6 L427.9,53.9 L429.0,51.3 L430.3,48.6 L431.2,47.3 L432.2,58.6 L433.0,59.9 L433.9,60.6 L434.6,48.6 L435.6,53.3 L436.6,58.6 L437.5,63.3 L438.6,55.9 L439.6,65.2 L441.0,66.6 L442.3,55.9 L443.6,53.3 L444.9,57.3 L446.3,58.3 L447.4,62.6 L448.3,57.2 L449.3,52.6 L450.3,50.3 L451.4,55.9 L452.3,53.9 L453.3,55.9 L454.3,61.9 L455.4,61.2 L456.7,63.9 L457.8,55.9" stroke="#931e1e" stroke-width="1.05" fill="none" stroke-linejoin="round"/>
<path d="M462.0,58.6 L462.6,55.2 L463.6,57.9 L464.7,55.9 L465.6,51.2 L466.6,51.9 L467.6,56.6 L468.7,54.6 L469.6,42.6 L470.6,33.3 L471.6,44.6 L472.7,43.3 L473.6,53.2 L474.5,61.2 L475.6,65.2 L476.7,68.5 L477.6,47.2 L478.5,51.9 L479.3,48.6 L480.3,50.6 L481.2,56.6 L482.3,51.2 L483.3,59.2 L484.3,57.9 L485.2,63.9 L486.3,61.9 L487.3,65.9 L488.3,69.2 L489.3,57.2 L490.2,59.9 L491.3,43.9 L492.2,35.3 L493.2,23.3 L494.5,18.0 L495.3,16.6 L495.8,10.0 L496.9,9.6 L497.6,16.0 L498.2,36.6 L499.3,39.3 L500.2,21.3 L501.2,13.3 L502.0,16.0 L502.9,9.3 L503.8,6.7 L504.9,10.6 L505.9,18.3 L506.7,33.1 L507.9,34.2 L508.7,31.4 L509.6,35.4 L510.7,38.2 L511.8,44.5 L512.8,45.6 L513.6,37.6 L514.4,43.3 L515.3,37.6 L516.2,40.5 L517.0,36.5 L517.8,39.4 L518.5,33.6 L519.3,38.8 L520.1,36.5 L521.0,39.9 L521.5,44.5 L522.3,36.5 L523.0,29.7 L523.8,29.1" stroke="#931e1e" stroke-width="1.05" fill="none" stroke-linejoin="round"/>
<path d="M524.4,14.3 L525.3,13.7 L526.1,24.0 L527.2,22.8 L528.4,29.7 L529.2,37.1 L530.1,30.2 L531.0,31.4 L532.1,30.2 L533.3,33.6 L534.4,36.5 L535.2,39.9 L535.8,46.2 L536.7,41.1 L537.5,36.5 L538.3,33.1 L539.2,35.4 L540.1,38.8 L541.0,40.5 L541.7,26.8 L542.6,27.9 L543.6,24.5 L544.4,18.3 L545.2,19.4 L546.1,24.0 L547.0,24.5 L547.8,29.7 L548.9,25.1 L550.1,29.1 L551.2,31.9 L552.0,31.4 L552.9,35.9 L553.8,36.7" stroke="#931e1e" stroke-width="1.05" fill="none" stroke-linejoin="round"/>
<path d="M38.4,237.7 L38.4,2.6 L578.5,2.6" stroke="#333333" stroke-width="0.9" fill="none"/>
<line x1="38.4" x2="578.5" y1="237.7" y2="237.7" stroke="#333333" stroke-width="0.9"/>
<line x1="578.5" x2="578.5" y1="2.6" y2="237.7" stroke="#8b1c1c" stroke-width="1"/>
<line x1="35.8" x2="38.4" y1="216.35" y2="216.35" stroke="#333333" stroke-width="0.9"/>
<text x="33.20" y="219.05" font-size="8.3" text-anchor="end" fill="#000" stroke="#000" font-family="Liberation Sans, sans-serif" font-weight="bold" stroke-width="0.28" paint-order="stroke" textLength="21.07" lengthAdjust="spacingAndGlyphs" >−100</text>
<line x1="35.8" x2="38.4" y1="173.60" y2="173.60" stroke="#333333" stroke-width="0.9"/>
<text x="33.20" y="176.30" font-size="8.3" text-anchor="end" fill="#000" stroke="#000" font-family="Liberation Sans, sans-serif" font-weight="bold" stroke-width="0.28" paint-order="stroke" textLength="5.01" lengthAdjust="spacingAndGlyphs" >0</text>
<line x1="35.8" x2="38.4" y1="130.85" y2="130.85" stroke="#333333" stroke-width="0.9"/>
<text x="33.20" y="133.55" font-size="8.3" text-anchor="end" fill="#000" stroke="#000" font-family="Liberation Sans, sans-serif" font-weight="bold" stroke-width="0.28" paint-order="stroke" textLength="15.03" lengthAdjust="spacingAndGlyphs" >100</text>
<line x1="35.8" x2="38.4" y1="88.10" y2="88.10" stroke="#333333" stroke-width="0.9"/>
<text x="33.20" y="90.80" font-size="8.3" text-anchor="end" fill="#000" stroke="#000" font-family="Liberation Sans, sans-serif" font-weight="bold" stroke-width="0.28" paint-order="stroke" textLength="15.03" lengthAdjust="spacingAndGlyphs" >200</text>
<line x1="35.8" x2="38.4" y1="45.35" y2="45.35" stroke="#333333" stroke-width="0.9"/>
<text x="33.20" y="48.05" font-size="8.3" text-anchor="end" fill="#000" stroke="#000" font-family="Liberation Sans, sans-serif" font-weight="bold" stroke-width="0.28" paint-order="stroke" textLength="15.03" lengthAdjust="spacingAndGlyphs" >300</text>
<line x1="35.8" x2="38.4" y1="2.60" y2="2.60" stroke="#333333" stroke-width="0.9"/>
<text x="33.20" y="5.30" font-size="8.3" text-anchor="end" fill="#000" stroke="#000" font-family="Liberation Sans, sans-serif" font-weight="bold" stroke-width="0.28" paint-order="stroke" textLength="15.03" lengthAdjust="spacingAndGlyphs" >400</text>
<line x1="578.5" x2="581.1" y1="6.55" y2="6.55" stroke="#8b1c1c" stroke-width="1"/>
<text x="584.10" y="9.25" font-size="8.3" text-anchor="start" fill="#8b1c1c" stroke="#8b1c1c" font-family="Liberation Sans, sans-serif" font-weight="bold" stroke-width="0.28" paint-order="stroke" textLength="5.01" lengthAdjust="spacingAndGlyphs" >0</text>
<line x1="578.5" x2="581.1" y1="44.99" y2="44.99" stroke="#8b1c1c" stroke-width="1"/>
<text x="584.10" y="47.69" font-size="8.3" text-anchor="start" fill="#8b1c1c" stroke="#8b1c1c" font-family="Liberation Sans, sans-serif" font-weight="bold" stroke-width="0.28" paint-order="stroke" textLength="16.06" lengthAdjust="spacingAndGlyphs" >−20</text>
<line x1="578.5" x2="581.1" y1="83.43" y2="83.43" stroke="#8b1c1c" stroke-width="1"/>
<text x="584.10" y="86.13" font-size="8.3" text-anchor="start" fill="#8b1c1c" stroke="#8b1c1c" font-family="Liberation Sans, sans-serif" font-weight="bold" stroke-width="0.28" paint-order="stroke" textLength="16.06" lengthAdjust="spacingAndGlyphs" >−40</text>
<line x1="578.5" x2="581.1" y1="121.87" y2="121.87" stroke="#8b1c1c" stroke-width="1"/>
<line x1="578.5" x2="581.1" y1="160.31" y2="160.31" stroke="#8b1c1c" stroke-width="1"/>
<line x1="578.5" x2="581.1" y1="198.75" y2="198.75" stroke="#8b1c1c" stroke-width="1"/>
<line x1="578.5" x2="581.1" y1="237.19" y2="237.19" stroke="#8b1c1c" stroke-width="1"/>
<line x1="93.6" x2="93.6" y1="237.7" y2="240.29999999999998" stroke="#333333" stroke-width="0.9"/>
<text x="93.60" y="249.00" font-size="8.3" text-anchor="middle" fill="#000" stroke="#000" font-family="Liberation Sans, sans-serif" font-weight="bold" stroke-width="0.28" paint-order="stroke" textLength="33.06" lengthAdjust="spacingAndGlyphs" >2019-11</text>
<line x1="165.3" x2="165.3" y1="237.7" y2="240.29999999999998" stroke="#333333" stroke-width="0.9"/>
<text x="165.30" y="249.00" font-size="8.3" text-anchor="middle" fill="#000" stroke="#000" font-family="Liberation Sans, sans-serif" font-weight="bold" stroke-width="0.28" paint-order="stroke" textLength="33.06" lengthAdjust="spacingAndGlyphs" >2019-12</text>
<line x1="240.2" x2="240.2" y1="237.7" y2="240.29999999999998" stroke="#333333" stroke-width="0.9"/>
<text x="240.20" y="249.00" font-size="8.3" text-anchor="middle" fill="#000" stroke="#000" font-family="Liberation Sans, sans-serif" font-weight="bold" stroke-width="0.28" paint-order="stroke" textLength="33.06" lengthAdjust="spacingAndGlyphs" >2020-01</text>
<line x1="315.0" x2="315.0" y1="237.7" y2="240.29999999999998" stroke="#333333" stroke-width="0.9"/>
<text x="315.00" y="249.00" font-size="8.3" text-anchor="middle" fill="#000" stroke="#000" font-family="Liberation Sans, sans-serif" font-weight="bold" stroke-width="0.28" paint-order="stroke" textLength="33.06" lengthAdjust="spacingAndGlyphs" >2020-02</text>
<line x1="384.5" x2="384.5" y1="237.7" y2="240.29999999999998" stroke="#333333" stroke-width="0.9"/>
<text x="384.50" y="249.00" font-size="8.3" text-anchor="middle" fill="#000" stroke="#000" font-family="Liberation Sans, sans-serif" font-weight="bold" stroke-width="0.28" paint-order="stroke" textLength="33.06" lengthAdjust="spacingAndGlyphs" >2020-03</text>
<line x1="459.2" x2="459.2" y1="237.7" y2="240.29999999999998" stroke="#333333" stroke-width="0.9"/>
<text x="459.20" y="249.00" font-size="8.3" text-anchor="middle" fill="#000" stroke="#000" font-family="Liberation Sans, sans-serif" font-weight="bold" stroke-width="0.28" paint-order="stroke" textLength="33.06" lengthAdjust="spacingAndGlyphs" >2020-04</text>
<line x1="531.3" x2="531.3" y1="237.7" y2="240.29999999999998" stroke="#333333" stroke-width="0.9"/>
<text x="531.30" y="249.00" font-size="8.3" text-anchor="middle" fill="#000" stroke="#000" font-family="Liberation Sans, sans-serif" font-weight="bold" stroke-width="0.28" paint-order="stroke" textLength="33.06" lengthAdjust="spacingAndGlyphs" >2020-05</text>
<text x="308.45" y="258.80" font-size="8.3" text-anchor="middle" fill="#000" stroke="#000" font-family="Liberation Sans, sans-serif" font-weight="bold" stroke-width="0.28" paint-order="stroke" textLength="84.71" lengthAdjust="spacingAndGlyphs" >Datetime (YYYY-MM)</text>
<text x="0" y="0" font-size="8.3" text-anchor="middle" fill="#000" stroke="#000" font-family="Liberation Sans, sans-serif" font-weight="bold" stroke-width="0.28" paint-order="stroke" textLength="42.89" lengthAdjust="spacingAndGlyphs" transform="translate(7.30 120.10) rotate(-90)"><tspan font-size="8.3">ΔT (K m</tspan><tspan font-size="5.7" dy="-3.0">−1</tspan><tspan font-size="8.3" dy="3.0">)</tspan></text>
<text x="0" y="0" font-size="8.3" text-anchor="middle" fill="#8b1c1c" stroke="#8b1c1c" font-family="Liberation Sans, sans-serif" font-weight="bold" stroke-width="0.28" paint-order="stroke" textLength="31.64" lengthAdjust="spacingAndGlyphs" transform="translate(617.40 45.50) rotate(-90)"><tspan font-size="8.3">T</tspan><tspan font-size="5.7" dy="2.0">2m</tspan><tspan font-size="8.3" dy="-2.0"> (°C)</tspan></text>
<text x="76.60" y="18.20" font-size="8.6" text-anchor="start" fill="#000" stroke="#000" font-family="Liberation Sans, sans-serif" font-weight="bold" stroke-width="0.28" paint-order="stroke" textLength="9.74" lengthAdjust="spacingAndGlyphs" >a)</text>
<defs><linearGradient id="cb" x1="0" y1="0" x2="0" y2="1"><stop offset="0.00" stop-color="#053061"/><stop offset="0.10" stop-color="#2166ac"/><stop offset="0.20" stop-color="#4393c3"/><stop offset="0.30" stop-color="#92c5de"/><stop offset="0.40" stop-color="#d1e5f0"/><stop offset="0.50" stop-color="#f7f7f7"/><stop offset="0.60" stop-color="#fddbc7"/><stop offset="0.70" stop-color="#f4a582"/><stop offset="0.80" stop-color="#d6604d"/><stop offset="0.90" stop-color="#b2182b"/><stop offset="1.00" stop-color="#67001f"/></linearGradient></defs>
<rect x="647.6" y="2.5" width="11.80" height="234.60" fill="url(#cb)" stroke="#333333" stroke-width="0.8"/>
<line x1="659.4" x2="662.0" y1="237.10" y2="237.10" stroke="#333333" stroke-width="0.9"/>
<text x="664.60" y="240.10" font-size="8.3" text-anchor="start" fill="#000" stroke="#000" font-family="Liberation Sans, sans-serif" font-weight="bold" stroke-width="0.28" paint-order="stroke" textLength="5.01" lengthAdjust="spacingAndGlyphs" >5</text>
<line x1="659.4" x2="662.0" y1="190.18" y2="190.18" stroke="#333333" stroke-width="0.9"/>
<text x="664.60" y="193.18" font-size="8.3" text-anchor="start" fill="#000" stroke="#000" font-family="Liberation Sans, sans-serif" font-weight="bold" stroke-width="0.28" paint-order="stroke" textLength="10.02" lengthAdjust="spacingAndGlyphs" >10</text>
<line x1="659.4" x2="662.0" y1="143.26" y2="143.26" stroke="#333333" stroke-width="0.9"/>
<text x="664.60" y="146.26" font-size="8.3" text-anchor="start" fill="#000" stroke="#000" font-family="Liberation Sans, sans-serif" font-weight="bold" stroke-width="0.28" paint-order="stroke" textLength="10.02" lengthAdjust="spacingAndGlyphs" >15</text>
<line x1="659.4" x2="662.0" y1="96.34" y2="96.34" stroke="#333333" stroke-width="0.9"/>
<text x="664.60" y="99.34" font-size="8.3" text-anchor="start" fill="#000" stroke="#000" font-family="Liberation Sans, sans-serif" font-weight="bold" stroke-width="0.28" paint-order="stroke" textLength="10.02" lengthAdjust="spacingAndGlyphs" >20</text>
<line x1="659.4" x2="662.0" y1="49.42" y2="49.42" stroke="#333333" stroke-width="0.9"/>
<text x="664.60" y="52.42" font-size="8.3" text-anchor="start" fill="#000" stroke="#000" font-family="Liberation Sans, sans-serif" font-weight="bold" stroke-width="0.28" paint-order="stroke" textLength="10.02" lengthAdjust="spacingAndGlyphs" >25</text>
<line x1="659.4" x2="662.0" y1="2.50" y2="2.50" stroke="#333333" stroke-width="0.9"/>
<text x="664.60" y="5.50" font-size="8.3" text-anchor="start" fill="#000" stroke="#000" font-family="Liberation Sans, sans-serif" font-weight="bold" stroke-width="0.28" paint-order="stroke" textLength="10.02" lengthAdjust="spacingAndGlyphs" >30</text>
<text x="0" y="0" font-size="8.3" text-anchor="middle" fill="#000" stroke="#000" font-family="Liberation Sans, sans-serif" font-weight="bold" stroke-width="0.28" paint-order="stroke" textLength="29.00" lengthAdjust="spacingAndGlyphs" transform="translate(684.20 120.00) rotate(-90)"><tspan font-size="8.3">h</tspan><tspan font-size="5.7" dy="2.0">s</tspan><tspan font-size="8.3" dy="-2.0"> (cm)</tspan></text>
<line x1="38.3" x2="279.2" y1="425.00" y2="425.00" stroke="#1a1a1a" stroke-width="1.4" stroke-dasharray="4 2"/>
<path d="M54.45 301.25L58.75 305.55M54.45 305.55L58.75 301.25" stroke="#808080" stroke-width="1.15" fill="none"/>
<path d="M62.05 292.15L66.35 296.45M62.05 296.45L66.35 292.15" stroke="#808080" stroke-width="1.15" fill="none"/>
<path d="M59.45 338.05L63.75 342.35M59.45 342.35L63.75 338.05" stroke="#808080" stroke-width="1.15" fill="none"/>
<path d="M65.65 338.55L69.95 342.85M65.65 342.85L69.95 338.55" stroke="#808080" stroke-width="1.15" fill="none"/>
<path d="M69.95 339.55L74.25 343.85M69.95 343.85L74.25 339.55" stroke="#808080" stroke-width="1.15" fill="none"/>
<path d="M62.35 342.35L66.65 346.65M62.35 346.65L66.65 342.35" stroke="#808080" stroke-width="1.15" fill="none"/>
<path d="M64.75 343.35L69.05 347.65M64.75 347.65L69.05 343.35" stroke="#808080" stroke-width="1.15" fill="none"/>
<path d="M67.55 341.85L71.85 346.15M67.55 346.15L71.85 341.85" stroke="#808080" stroke-width="1.15" fill="none"/>
<path d="M63.25 345.25L67.55 349.55M63.25 349.55L67.55 345.25" stroke="#808080" stroke-width="1.15" fill="none"/>
<path d="M67.05 347.15L71.35 351.45M67.05 351.45L71.35 347.15" stroke="#808080" stroke-width="1.15" fill="none"/>
<path d="M67.05 350.45L71.35 354.75M67.05 354.75L71.35 350.45" stroke="#808080" stroke-width="1.15" fill="none"/>
<path d="M61.85 355.65L66.15 359.95M61.85 359.95L66.15 355.65" stroke="#808080" stroke-width="1.15" fill="none"/>
<path d="M65.65 354.25L69.95 358.55M65.65 358.55L69.95 354.25" stroke="#808080" stroke-width="1.15" fill="none"/>
<path d="M67.55 353.25L71.85 357.55M67.55 357.55L71.85 353.25" stroke="#808080" stroke-width="1.15" fill="none"/>
<path d="M71.35 355.65L75.65 359.95M71.35 359.95L75.65 355.65" stroke="#808080" stroke-width="1.15" fill="none"/>
<path d="M77.05 353.25L81.35 357.55M77.05 357.55L81.35 353.25" stroke="#808080" stroke-width="1.15" fill="none"/>
<path d="M66.65 358.55L70.95 362.85M66.65 362.85L70.95 358.55" stroke="#808080" stroke-width="1.15" fill="none"/>
<path d="M69.45 358.55L73.75 362.85M69.45 362.85L73.75 358.55" stroke="#808080" stroke-width="1.15" fill="none"/>
<path d="M74.25 357.55L78.55 361.85M74.25 361.85L78.55 357.55" stroke="#808080" stroke-width="1.15" fill="none"/>
<path d="M79.95 357.55L84.25 361.85M79.95 361.85L84.25 357.55" stroke="#808080" stroke-width="1.15" fill="none"/>
<path d="M82.25 359.95L86.55 364.25M82.25 364.25L86.55 359.95" stroke="#808080" stroke-width="1.15" fill="none"/>
<path d="M78.95 361.35L83.25 365.65M78.95 365.65L83.25 361.35" stroke="#808080" stroke-width="1.15" fill="none"/>
<path d="M65.65 362.35L69.95 366.65M65.65 366.65L69.95 362.35" stroke="#808080" stroke-width="1.15" fill="none"/>
<path d="M68.95 364.25L73.25 368.55M68.95 368.55L73.25 364.25" stroke="#808080" stroke-width="1.15" fill="none"/>
<path d="M66.65 366.15L70.95 370.45M66.65 370.45L70.95 366.15" stroke="#808080" stroke-width="1.15" fill="none"/>
<path d="M71.35 361.35L75.65 365.65M71.35 365.65L75.65 361.35" stroke="#808080" stroke-width="1.15" fill="none"/>
<path d="M57.15 370.85L61.45 375.15M57.15 375.15L61.45 370.85" stroke="#808080" stroke-width="1.15" fill="none"/>
<path d="M59.95 372.75L64.25 377.05M59.95 377.05L64.25 372.75" stroke="#808080" stroke-width="1.15" fill="none"/>
<path d="M67.55 374.65L71.85 378.95M67.55 378.95L71.85 374.65" stroke="#808080" stroke-width="1.15" fill="none"/>
<path d="M71.35 375.65L75.65 379.95M71.35 379.95L75.65 375.65" stroke="#808080" stroke-width="1.15" fill="none"/>
<path d="M80.85 373.75L85.15 378.05M80.85 378.05L85.15 373.75" stroke="#808080" stroke-width="1.15" fill="none"/>
<path d="M74.25 377.55L78.55 381.85M74.25 381.85L78.55 377.55" stroke="#808080" stroke-width="1.15" fill="none"/>
<path d="M82.75 380.35L87.05 384.65M82.75 384.65L87.05 380.35" stroke="#808080" stroke-width="1.15" fill="none"/>
<path d="M90.35 377.55L94.65 381.85M90.35 381.85L94.65 377.55" stroke="#808080" stroke-width="1.15" fill="none"/>
<path d="M58.95 338.45L63.25 342.75M58.95 342.75L63.25 338.45" stroke="#808080" stroke-width="1.15" fill="none"/>
<path d="M62.75 340.75L67.05 345.05M62.75 345.05L67.05 340.75" stroke="#808080" stroke-width="1.15" fill="none"/>
<path d="M67.25 339.25L71.55 343.55M67.25 343.55L71.55 339.25" stroke="#808080" stroke-width="1.15" fill="none"/>
<path d="M69.55 340.05L73.85 344.35M69.55 344.35L73.85 340.05" stroke="#808080" stroke-width="1.15" fill="none"/>
<path d="M63.45 343.85L67.75 348.15M63.45 348.15L67.75 343.85" stroke="#808080" stroke-width="1.15" fill="none"/>
<path d="M65.75 344.55L70.05 348.85M65.75 348.85L70.05 344.55" stroke="#808080" stroke-width="1.15" fill="none"/>
<path d="M67.25 346.85L71.55 351.15M67.25 351.15L71.55 346.85" stroke="#808080" stroke-width="1.15" fill="none"/>
<path d="M66.55 350.65L70.85 354.95M66.55 354.95L70.85 350.65" stroke="#808080" stroke-width="1.15" fill="none"/>
<path d="M61.95 355.95L66.25 360.25M61.95 360.25L66.25 355.95" stroke="#808080" stroke-width="1.15" fill="none"/>
<path d="M66.55 354.45L70.85 358.75M66.55 358.75L70.85 354.45" stroke="#808080" stroke-width="1.15" fill="none"/>
<path d="M70.35 356.75L74.65 361.05M70.35 361.05L74.65 356.75" stroke="#808080" stroke-width="1.15" fill="none"/>
<path d="M77.15 353.75L81.45 358.05M77.15 358.05L81.45 353.75" stroke="#808080" stroke-width="1.15" fill="none"/>
<path d="M72.65 358.25L76.95 362.55M72.65 362.55L76.95 358.25" stroke="#808080" stroke-width="1.15" fill="none"/>
<path d="M79.45 358.25L83.75 362.55M79.45 362.55L83.75 358.25" stroke="#808080" stroke-width="1.15" fill="none"/>
<path d="M81.75 359.75L86.05 364.05M81.75 364.05L86.05 359.75" stroke="#808080" stroke-width="1.15" fill="none"/>
<path d="M79.45 362.85L83.75 367.15M79.45 367.15L83.75 362.85" stroke="#808080" stroke-width="1.15" fill="none"/>
<path d="M74.15 362.85L78.45 367.15M74.15 367.15L78.45 362.85" stroke="#808080" stroke-width="1.15" fill="none"/>
<path d="M68.05 361.35L72.35 365.65M68.05 365.65L72.35 361.35" stroke="#808080" stroke-width="1.15" fill="none"/>
<path d="M66.55 365.85L70.85 370.15M66.55 370.15L70.85 365.85" stroke="#808080" stroke-width="1.15" fill="none"/>
<path d="M68.85 367.35L73.15 371.65M68.85 371.65L73.15 367.35" stroke="#808080" stroke-width="1.15" fill="none"/>
<path d="M56.65 371.15L60.95 375.45M56.65 375.45L60.95 371.15" stroke="#808080" stroke-width="1.15" fill="none"/>
<path d="M60.45 372.75L64.75 377.05M60.45 377.05L64.75 372.75" stroke="#808080" stroke-width="1.15" fill="none"/>
<path d="M69.55 373.45L73.85 377.75M69.55 377.75L73.85 373.45" stroke="#808080" stroke-width="1.15" fill="none"/>
<path d="M72.65 375.75L76.95 380.05M72.65 380.05L76.95 375.75" stroke="#808080" stroke-width="1.15" fill="none"/>
<path d="M80.25 373.45L84.55 377.75M80.25 377.75L84.55 373.45" stroke="#808080" stroke-width="1.15" fill="none"/>
<path d="M74.15 379.55L78.45 383.85M74.15 383.85L78.45 379.55" stroke="#808080" stroke-width="1.15" fill="none"/>
<path d="M82.55 379.55L86.85 383.85M82.55 383.85L86.85 379.55" stroke="#808080" stroke-width="1.15" fill="none"/>
<path d="M85.55 380.35L89.85 384.65M85.55 384.65L89.85 380.35" stroke="#808080" stroke-width="1.15" fill="none"/>
<path d="M92.05 376.85L96.35 381.15M92.05 381.15L96.35 376.85" stroke="#808080" stroke-width="1.15" fill="none"/>
<path d="M104.55 377.25L108.85 381.55M104.55 381.55L108.85 377.25" stroke="#808080" stroke-width="1.15" fill="none"/>
<path d="M99.95 382.65L104.25 386.95M99.95 386.95L104.25 382.65" stroke="#808080" stroke-width="1.15" fill="none"/>
<path d="M107.65 384.15L111.95 388.45M107.65 388.45L111.95 384.15" stroke="#808080" stroke-width="1.15" fill="none"/>
<path d="M112.15 381.85L116.45 386.15M112.15 386.15L116.45 381.85" stroke="#808080" stroke-width="1.15" fill="none"/>
<path d="M116.75 383.35L121.05 387.65M116.75 387.65L121.05 383.35" stroke="#808080" stroke-width="1.15" fill="none"/>
<path d="M61.95 385.35L66.25 389.65M61.95 389.65L66.25 385.35" stroke="#808080" stroke-width="1.15" fill="none"/>
<path d="M66.55 389.45L70.85 393.75M66.55 393.75L70.85 389.45" stroke="#808080" stroke-width="1.15" fill="none"/>
<path d="M61.95 393.25L66.25 397.55M61.95 397.55L66.25 393.25" stroke="#808080" stroke-width="1.15" fill="none"/>
<path d="M72.65 394.75L76.95 399.05M72.65 399.05L76.95 394.75" stroke="#808080" stroke-width="1.15" fill="none"/>
<path d="M79.45 390.25L83.75 394.55M79.45 394.55L83.75 390.25" stroke="#808080" stroke-width="1.15" fill="none"/>
<path d="M82.55 393.25L86.85 397.55M82.55 397.55L86.85 393.25" stroke="#808080" stroke-width="1.15" fill="none"/>
<path d="M85.55 387.95L89.85 392.25M85.55 392.25L89.85 387.95" stroke="#808080" stroke-width="1.15" fill="none"/>
<path d="M90.15 388.65L94.45 392.95M90.15 392.95L94.45 388.65" stroke="#808080" stroke-width="1.15" fill="none"/>
<path d="M93.95 387.95L98.25 392.25M93.95 392.25L98.25 387.95" stroke="#808080" stroke-width="1.15" fill="none"/>
<path d="M98.45 394.75L102.75 399.05M98.45 399.05L102.75 394.75" stroke="#808080" stroke-width="1.15" fill="none"/>
<path d="M101.55 395.55L105.85 399.85M101.55 399.85L105.85 395.55" stroke="#808080" stroke-width="1.15" fill="none"/>
<path d="M110.65 393.25L114.95 397.55M110.65 397.55L114.95 393.25" stroke="#808080" stroke-width="1.15" fill="none"/>
<path d="M112.95 388.65L117.25 392.95M112.95 392.95L117.25 388.65" stroke="#808080" stroke-width="1.15" fill="none"/>
<path d="M115.25 384.85L119.55 389.15M115.25 389.15L119.55 384.85" stroke="#808080" stroke-width="1.15" fill="none"/>
<path d="M80.95 397.85L85.25 402.15M80.95 402.15L85.25 397.85" stroke="#808080" stroke-width="1.15" fill="none"/>
<path d="M86.35 397.85L90.65 402.15M86.35 402.15L90.65 397.85" stroke="#808080" stroke-width="1.15" fill="none"/>
<path d="M90.85 400.85L95.15 405.15M90.85 405.15L95.15 400.85" stroke="#808080" stroke-width="1.15" fill="none"/>
<path d="M71.15 399.35L75.45 403.65M71.15 403.65L75.45 399.35" stroke="#808080" stroke-width="1.15" fill="none"/>
<path d="M72.65 402.35L76.95 406.65M72.65 406.65L76.95 402.35" stroke="#808080" stroke-width="1.15" fill="none"/>
<path d="M61.95 406.15L66.25 410.45M61.95 410.45L66.25 406.15" stroke="#808080" stroke-width="1.15" fill="none"/>
<path d="M68.05 405.45L72.35 409.75M68.05 409.75L72.35 405.45" stroke="#808080" stroke-width="1.15" fill="none"/>
<path d="M110.65 400.85L114.95 405.15M110.65 405.15L114.95 400.85" stroke="#808080" stroke-width="1.15" fill="none"/>
<path d="M113.65 402.35L117.95 406.65M113.65 406.65L117.95 402.35" stroke="#808080" stroke-width="1.15" fill="none"/>
<path d="M106.05 403.85L110.35 408.15M106.05 408.15L110.35 403.85" stroke="#808080" stroke-width="1.15" fill="none"/>
<path d="M62.25 385.15L66.55 389.45M62.25 389.45L66.55 385.15" stroke="#808080" stroke-width="1.15" fill="none"/>
<path d="M66.85 390.75L71.15 395.05M66.85 395.05L71.15 390.75" stroke="#808080" stroke-width="1.15" fill="none"/>
<path d="M62.25 393.05L66.55 397.35M62.25 397.35L66.55 393.05" stroke="#808080" stroke-width="1.15" fill="none"/>
<path d="M72.15 396.15L76.45 400.45M72.15 400.45L76.45 396.15" stroke="#808080" stroke-width="1.15" fill="none"/>
<path d="M72.15 401.45L76.45 405.75M72.15 405.75L76.45 401.45" stroke="#808080" stroke-width="1.15" fill="none"/>
<path d="M62.25 405.95L66.55 410.25M62.25 410.25L66.55 405.95" stroke="#808080" stroke-width="1.15" fill="none"/>
<path d="M67.65 406.75L71.95 411.05M67.65 411.05L71.95 406.75" stroke="#808080" stroke-width="1.15" fill="none"/>
<path d="M70.65 407.55L74.95 411.85M70.65 411.85L74.95 407.55" stroke="#808080" stroke-width="1.15" fill="none"/>
<path d="M69.15 412.05L73.45 416.35M69.15 416.35L73.45 412.05" stroke="#808080" stroke-width="1.15" fill="none"/>
<path d="M70.65 418.95L74.95 423.25M70.65 423.25L74.95 418.95" stroke="#808080" stroke-width="1.15" fill="none"/>
<path d="M72.15 420.45L76.45 424.75M72.15 424.75L76.45 420.45" stroke="#808080" stroke-width="1.15" fill="none"/>
<path d="M74.45 425.75L78.75 430.05M74.45 430.05L78.75 425.75" stroke="#808080" stroke-width="1.15" fill="none"/>
<path d="M74.45 436.45L78.75 440.75M74.45 440.75L78.75 436.45" stroke="#808080" stroke-width="1.15" fill="none"/>
<path d="M79.45 444.75L83.75 449.05M79.45 449.05L83.75 444.75" stroke="#808080" stroke-width="1.15" fill="none"/>
<path d="M66.85 454.65L71.15 458.95M66.85 458.95L71.15 454.65" stroke="#808080" stroke-width="1.15" fill="none"/>
<path d="M72.95 456.15L77.25 460.45M72.95 460.45L77.25 456.15" stroke="#808080" stroke-width="1.15" fill="none"/>
<path d="M84.35 453.85L88.65 458.15M84.35 458.15L88.65 453.85" stroke="#808080" stroke-width="1.15" fill="none"/>
<path d="M85.55 424.25L89.85 428.55M85.55 428.55L89.85 424.25" stroke="#808080" stroke-width="1.15" fill="none"/>
<path d="M93.15 433.35L97.45 437.65M93.15 437.65L97.45 433.35" stroke="#808080" stroke-width="1.15" fill="none"/>
<path d="M94.95 426.25L99.25 430.55M94.95 430.55L99.25 426.25" stroke="#808080" stroke-width="1.15" fill="none"/>
<path d="M102.25 440.25L106.55 444.55M102.25 444.55L106.55 440.25" stroke="#808080" stroke-width="1.15" fill="none"/>
<path d="M97.25 418.65L101.55 422.95M97.25 422.95L101.55 418.65" stroke="#808080" stroke-width="1.15" fill="none"/>
<path d="M101.05 414.05L105.35 418.35M101.05 418.35L105.35 414.05" stroke="#808080" stroke-width="1.15" fill="none"/>
<path d="M82.85 413.15L87.15 417.45M82.85 417.45L87.15 413.15" stroke="#808080" stroke-width="1.15" fill="none"/>
<path d="M84.35 414.05L88.65 418.35M84.35 418.35L88.65 414.05" stroke="#808080" stroke-width="1.15" fill="none"/>
<path d="M89.65 413.55L93.95 417.85M89.65 417.85L93.95 413.55" stroke="#808080" stroke-width="1.15" fill="none"/>
<path d="M106.45 407.55L110.75 411.85M106.45 411.85L110.75 407.55" stroke="#808080" stroke-width="1.15" fill="none"/>
<path d="M109.45 409.75L113.75 414.05M109.45 414.05L113.75 409.75" stroke="#808080" stroke-width="1.15" fill="none"/>
<path d="M111.75 403.75L116.05 408.05M111.75 408.05L116.05 403.75" stroke="#808080" stroke-width="1.15" fill="none"/>
<path d="M108.65 400.65L112.95 404.95M108.65 404.95L112.95 400.65" stroke="#808080" stroke-width="1.15" fill="none"/>
<path d="M114.05 402.95L118.35 407.25M114.05 407.25L118.35 402.95" stroke="#808080" stroke-width="1.15" fill="none"/>
<path d="M122.65 402.25L126.95 406.55M122.65 406.55L126.95 402.25" stroke="#808080" stroke-width="1.15" fill="none"/>
<path d="M126.15 401.85L130.45 406.15M126.15 406.15L130.45 401.85" stroke="#808080" stroke-width="1.15" fill="none"/>
<path d="M91.95 402.15L96.25 406.45M91.95 406.45L96.25 402.15" stroke="#808080" stroke-width="1.15" fill="none"/>
<path d="M88.95 399.15L93.25 403.45M88.95 403.45L93.25 399.15" stroke="#808080" stroke-width="1.15" fill="none"/>
<path d="M85.15 397.65L89.45 401.95M85.15 401.95L89.45 397.65" stroke="#808080" stroke-width="1.15" fill="none"/>
<path d="M80.55 394.55L84.85 398.85M80.55 398.85L84.85 394.55" stroke="#808080" stroke-width="1.15" fill="none"/>
<path d="M79.75 392.25L84.05 396.55M79.75 396.55L84.05 392.25" stroke="#808080" stroke-width="1.15" fill="none"/>
<path d="M82.85 386.95L87.15 391.25M82.85 391.25L87.15 386.95" stroke="#808080" stroke-width="1.15" fill="none"/>
<path d="M93.45 389.25L97.75 393.55M93.45 393.55L97.75 389.25" stroke="#808080" stroke-width="1.15" fill="none"/>
<path d="M96.55 395.35L100.85 399.65M96.55 399.65L100.85 395.35" stroke="#808080" stroke-width="1.15" fill="none"/>
<path d="M101.85 395.35L106.15 399.65M101.85 399.65L106.15 395.35" stroke="#808080" stroke-width="1.15" fill="none"/>
<path d="M99.55 382.45L103.85 386.75M99.55 386.75L103.85 382.45" stroke="#808080" stroke-width="1.15" fill="none"/>
<path d="M104.85 386.25L109.15 390.55M104.85 390.55L109.15 386.25" stroke="#808080" stroke-width="1.15" fill="none"/>
<path d="M110.25 383.15L114.55 387.45M110.25 387.45L114.55 383.15" stroke="#808080" stroke-width="1.15" fill="none"/>
<path d="M115.55 383.15L119.85 387.45M115.55 387.45L119.85 383.15" stroke="#808080" stroke-width="1.15" fill="none"/>
<path d="M113.25 389.25L117.55 393.55M113.25 393.55L117.55 389.25" stroke="#808080" stroke-width="1.15" fill="none"/>
<path d="M110.25 393.85L114.55 398.15M110.25 398.15L114.55 393.85" stroke="#808080" stroke-width="1.15" fill="none"/>
<path d="M85.15 380.85L89.45 385.15M85.15 385.15L89.45 380.85" stroke="#808080" stroke-width="1.15" fill="none"/>
<path d="M88.95 381.65L93.25 385.95M88.95 385.95L93.25 381.65" stroke="#808080" stroke-width="1.15" fill="none"/>
<path d="M69.95 380.15L74.25 384.45M69.95 384.45L74.25 380.15" stroke="#808080" stroke-width="1.15" fill="none"/>
<path d="M73.75 378.65L78.05 382.95M73.75 382.95L78.05 378.65" stroke="#808080" stroke-width="1.15" fill="none"/>
<path d="M75.95 461.15L80.25 465.45M75.95 465.45L80.25 461.15" stroke="#808080" stroke-width="1.15" fill="none"/>
<path d="M118.35 383.75L122.65 388.05M118.35 388.05L122.65 383.75" stroke="#808080" stroke-width="1.15" fill="none"/>
<path d="M86.35 381.35L90.65 385.65M86.35 385.65L90.65 381.35" stroke="#808080" stroke-width="1.15" fill="none"/>
<path d="M88.85 384.85L93.15 389.15M88.85 389.15L93.15 384.85" stroke="#808080" stroke-width="1.15" fill="none"/>
<path d="M83.35 384.35L87.65 388.65M83.35 388.65L87.65 384.35" stroke="#808080" stroke-width="1.15" fill="none"/>
<path d="M108.35 380.85L112.65 385.15M108.35 385.15L112.65 380.85" stroke="#808080" stroke-width="1.15" fill="none"/>
<path d="M111.35 386.35L115.65 390.65M111.35 390.65L115.65 386.35" stroke="#808080" stroke-width="1.15" fill="none"/>
<path d="M114.85 380.35L119.15 384.65M114.85 384.65L119.15 380.35" stroke="#808080" stroke-width="1.15" fill="none"/>
<path d="M117.35 387.85L121.65 392.15M117.35 392.15L121.65 387.85" stroke="#808080" stroke-width="1.15" fill="none"/>
<path d="M97.85 390.85L102.15 395.15M97.85 395.15L102.15 390.85" stroke="#808080" stroke-width="1.15" fill="none"/>
<path d="M93.35 393.35L97.65 397.65M93.35 397.65L97.65 393.35" stroke="#808080" stroke-width="1.15" fill="none"/>
<path d="M95.85 379.85L100.15 384.15M95.85 384.15L100.15 379.85" stroke="#808080" stroke-width="1.15" fill="none"/>
<path d="M69.35 408.85L73.65 413.15M69.35 413.15L73.65 408.85" stroke="#808080" stroke-width="1.15" fill="none"/>
<path d="M70.85 404.35L75.15 408.65M70.85 408.65L75.15 404.35" stroke="#808080" stroke-width="1.15" fill="none"/>
<path d="M68.35 411.35L72.65 415.65M68.35 415.65L72.65 411.35" stroke="#808080" stroke-width="1.15" fill="none"/>
<path d="M70.35 415.35L74.65 419.65M70.35 419.65L74.65 415.35" stroke="#808080" stroke-width="1.15" fill="none"/>
<path d="M140.05 403.35L144.35 407.65M140.05 407.65L144.35 403.35" stroke="#808080" stroke-width="1.15" fill="none"/>
<path d="M147.75 400.05L152.05 404.35M147.75 404.35L152.05 400.05" stroke="#808080" stroke-width="1.15" fill="none"/>
<path d="M162.65 400.55L166.95 404.85M162.65 404.85L166.95 400.55" stroke="#808080" stroke-width="1.15" fill="none"/>
<path d="M132.35 413.35L136.65 417.65M132.35 417.65L136.65 413.35" stroke="#808080" stroke-width="1.15" fill="none"/>
<path d="M142.35 413.35L146.65 417.65M142.35 417.65L146.65 413.35" stroke="#808080" stroke-width="1.15" fill="none"/>
<path d="M170.45 418.05L174.75 422.35M170.45 422.35L174.75 418.05" stroke="#808080" stroke-width="1.15" fill="none"/>
<path d="M187.95 398.95L192.25 403.25M187.95 403.25L192.25 398.95" stroke="#808080" stroke-width="1.15" fill="none"/>
<path d="M185.15 409.45L189.45 413.75M185.15 413.75L189.45 409.45" stroke="#808080" stroke-width="1.15" fill="none"/>
<path d="M210.35 409.45L214.65 413.75M210.35 413.75L214.65 409.45" stroke="#808080" stroke-width="1.15" fill="none"/>
<path d="M233.05 418.05L237.35 422.35M233.05 422.35L237.35 418.05" stroke="#808080" stroke-width="1.15" fill="none"/>
<path d="M265.75 418.05L270.05 422.35M265.75 422.35L270.05 418.05" stroke="#808080" stroke-width="1.15" fill="none"/>
<path d="M132.35 427.45L136.65 431.75M132.35 431.75L136.65 427.45" stroke="#808080" stroke-width="1.15" fill="none"/>
<path d="M136.55 429.75L140.85 434.05M136.55 434.05L140.85 429.75" stroke="#808080" stroke-width="1.15" fill="none"/>
<path d="M134.65 429.05L138.95 433.35M134.65 433.35L138.95 429.05" stroke="#808080" stroke-width="1.15" fill="none"/>
<path d="M49.10,345.14 L51.62,350.05 L54.13,354.65 L56.65,358.98 L59.16,363.03 L61.68,366.84 L64.19,370.41 L66.70,373.77 L69.22,376.91 L71.73,379.87 L74.25,382.64 L76.77,385.24 L79.28,387.68 L81.80,389.98 L84.31,392.13 L86.83,394.15 L89.34,396.04 L91.86,397.82 L94.37,399.49 L96.89,401.06 L99.40,402.53 L101.92,403.91 L104.43,405.21 L106.95,406.42 L109.46,407.56 L111.97,408.63 L114.49,409.64 L117.00,410.58 L119.52,411.47 L122.03,412.30 L124.55,413.08 L127.06,413.81 L129.58,414.50 L132.09,415.14 L134.61,415.75 L137.12,416.32 L139.64,416.85 L142.16,417.35 L144.67,417.82 L147.19,418.26 L149.70,418.68 L152.22,419.07 L154.73,419.43 L157.25,419.77 L159.76,420.09 L162.28,420.39 L164.79,420.68 L167.31,420.94 L169.82,421.19 L172.34,421.43 L174.85,421.65 L177.37,421.85 L179.88,422.05 L182.40,422.23 L184.91,422.40 L187.43,422.56 L189.94,422.71 L192.46,422.85 L194.97,422.98 L197.49,423.10 L200.00,423.22 L202.52,423.33 L205.03,423.43 L207.55,423.53 L210.06,423.62 L212.57,423.70 L215.09,423.78 L217.60,423.86 L220.12,423.93 L222.63,423.99 L225.15,424.06 L227.66,424.11 L230.18,424.17 L232.69,424.22 L235.21,424.27 L237.72,424.31 L240.24,424.35 L242.75,424.39 L245.27,424.43 L247.78,424.47 L250.30,424.50" stroke="#1f77b4" stroke-width="1.3" fill="none"/>
<rect x="38.3" y="268.4" width="240.90" height="234.90" fill="none" stroke="#333333" stroke-width="0.9"/>
<line x1="35.699999999999996" x2="38.3" y1="503.30" y2="503.30" stroke="#333333" stroke-width="0.9"/>
<text x="33.10" y="506.00" font-size="8.3" text-anchor="end" fill="#000" stroke="#000" font-family="Liberation Sans, sans-serif" font-weight="bold" stroke-width="0.28" paint-order="stroke" textLength="21.07" lengthAdjust="spacingAndGlyphs" >−150</text>
<line x1="35.699999999999996" x2="38.3" y1="477.20" y2="477.20" stroke="#333333" stroke-width="0.9"/>
<text x="33.10" y="479.90" font-size="8.3" text-anchor="end" fill="#000" stroke="#000" font-family="Liberation Sans, sans-serif" font-weight="bold" stroke-width="0.28" paint-order="stroke" textLength="21.07" lengthAdjust="spacingAndGlyphs" >−100</text>
<line x1="35.699999999999996" x2="38.3" y1="451.10" y2="451.10" stroke="#333333" stroke-width="0.9"/>
<text x="33.10" y="453.80" font-size="8.3" text-anchor="end" fill="#000" stroke="#000" font-family="Liberation Sans, sans-serif" font-weight="bold" stroke-width="0.28" paint-order="stroke" textLength="16.06" lengthAdjust="spacingAndGlyphs" >−50</text>
<line x1="35.699999999999996" x2="38.3" y1="425.00" y2="425.00" stroke="#333333" stroke-width="0.9"/>
<text x="33.10" y="427.70" font-size="8.3" text-anchor="end" fill="#000" stroke="#000" font-family="Liberation Sans, sans-serif" font-weight="bold" stroke-width="0.28" paint-order="stroke" textLength="5.01" lengthAdjust="spacingAndGlyphs" >0</text>
<line x1="35.699999999999996" x2="38.3" y1="398.90" y2="398.90" stroke="#333333" stroke-width="0.9"/>
<text x="33.10" y="401.60" font-size="8.3" text-anchor="end" fill="#000" stroke="#000" font-family="Liberation Sans, sans-serif" font-weight="bold" stroke-width="0.28" paint-order="stroke" textLength="10.02" lengthAdjust="spacingAndGlyphs" >50</text>
<line x1="35.699999999999996" x2="38.3" y1="372.80" y2="372.80" stroke="#333333" stroke-width="0.9"/>
<text x="33.10" y="375.50" font-size="8.3" text-anchor="end" fill="#000" stroke="#000" font-family="Liberation Sans, sans-serif" font-weight="bold" stroke-width="0.28" paint-order="stroke" textLength="15.03" lengthAdjust="spacingAndGlyphs" >100</text>
<line x1="35.699999999999996" x2="38.3" y1="346.70" y2="346.70" stroke="#333333" stroke-width="0.9"/>
<text x="33.10" y="349.40" font-size="8.3" text-anchor="end" fill="#000" stroke="#000" font-family="Liberation Sans, sans-serif" font-weight="bold" stroke-width="0.28" paint-order="stroke" textLength="15.03" lengthAdjust="spacingAndGlyphs" >150</text>
<line x1="35.699999999999996" x2="38.3" y1="320.60" y2="320.60" stroke="#333333" stroke-width="0.9"/>
<text x="33.10" y="323.30" font-size="8.3" text-anchor="end" fill="#000" stroke="#000" font-family="Liberation Sans, sans-serif" font-weight="bold" stroke-width="0.28" paint-order="stroke" textLength="15.03" lengthAdjust="spacingAndGlyphs" >200</text>
<line x1="35.699999999999996" x2="38.3" y1="294.50" y2="294.50" stroke="#333333" stroke-width="0.9"/>
<text x="33.10" y="297.20" font-size="8.3" text-anchor="end" fill="#000" stroke="#000" font-family="Liberation Sans, sans-serif" font-weight="bold" stroke-width="0.28" paint-order="stroke" textLength="15.03" lengthAdjust="spacingAndGlyphs" >250</text>
<line x1="35.699999999999996" x2="38.3" y1="268.40" y2="268.40" stroke="#333333" stroke-width="0.9"/>
<text x="33.10" y="271.10" font-size="8.3" text-anchor="end" fill="#000" stroke="#000" font-family="Liberation Sans, sans-serif" font-weight="bold" stroke-width="0.28" paint-order="stroke" textLength="15.03" lengthAdjust="spacingAndGlyphs" >300</text>
<line x1="49.10" x2="49.10" y1="503.3" y2="505.90000000000003" stroke="#333333" stroke-width="0.9"/>
<text x="49.10" y="514.90" font-size="8.3" text-anchor="middle" fill="#000" stroke="#000" font-family="Liberation Sans, sans-serif" font-weight="bold" stroke-width="0.28" paint-order="stroke" textLength="5.01" lengthAdjust="spacingAndGlyphs" >0</text>
<line x1="99.40" x2="99.40" y1="503.3" y2="505.90000000000003" stroke="#333333" stroke-width="0.9"/>
<text x="99.40" y="514.90" font-size="8.3" text-anchor="middle" fill="#000" stroke="#000" font-family="Liberation Sans, sans-serif" font-weight="bold" stroke-width="0.28" paint-order="stroke" textLength="10.02" lengthAdjust="spacingAndGlyphs" >20</text>
<line x1="149.70" x2="149.70" y1="503.3" y2="505.90000000000003" stroke="#333333" stroke-width="0.9"/>
<text x="149.70" y="514.90" font-size="8.3" text-anchor="middle" fill="#000" stroke="#000" font-family="Liberation Sans, sans-serif" font-weight="bold" stroke-width="0.28" paint-order="stroke" textLength="10.02" lengthAdjust="spacingAndGlyphs" >40</text>
<line x1="200.00" x2="200.00" y1="503.3" y2="505.90000000000003" stroke="#333333" stroke-width="0.9"/>
<text x="200.00" y="514.90" font-size="8.3" text-anchor="middle" fill="#000" stroke="#000" font-family="Liberation Sans, sans-serif" font-weight="bold" stroke-width="0.28" paint-order="stroke" textLength="10.02" lengthAdjust="spacingAndGlyphs" >60</text>
<line x1="250.30" x2="250.30" y1="503.3" y2="505.90000000000003" stroke="#333333" stroke-width="0.9"/>
<text x="250.30" y="514.90" font-size="8.3" text-anchor="middle" fill="#000" stroke="#000" font-family="Liberation Sans, sans-serif" font-weight="bold" stroke-width="0.28" paint-order="stroke" textLength="10.02" lengthAdjust="spacingAndGlyphs" >80</text>
<text x="0" y="0" font-size="8.3" text-anchor="middle" fill="#000" stroke="#000" font-family="Liberation Sans, sans-serif" font-weight="bold" stroke-width="0.28" paint-order="stroke" textLength="29.00" lengthAdjust="spacingAndGlyphs" transform="translate(158.75 524.10)"><tspan font-size="8.3">h</tspan><tspan font-size="5.7" dy="2.0">s</tspan><tspan font-size="8.3" dy="-2.0"> (cm)</tspan></text>
<text x="0" y="0" font-size="8.3" text-anchor="middle" fill="#000" stroke="#000" font-family="Liberation Sans, sans-serif" font-weight="bold" stroke-width="0.28" paint-order="stroke" textLength="42.89" lengthAdjust="spacingAndGlyphs" transform="translate(7.30 385.70) rotate(-90)"><tspan font-size="8.3">ΔT (K m</tspan><tspan font-size="5.7" dy="-3.0">−1</tspan><tspan font-size="8.3" dy="3.0">)</tspan></text>
<text x="74.90" y="305.20" font-size="8.6" text-anchor="start" fill="#000" stroke="#000" font-family="Liberation Sans, sans-serif" font-weight="bold" stroke-width="0.28" paint-order="stroke" textLength="10.09" lengthAdjust="spacingAndGlyphs" >b)</text>
<rect x="171.3" y="272.0" width="104.0" height="26.1" rx="1.5" fill="#fff" fill-opacity="0.8" stroke="#d0d0d0" stroke-width="0.8"/>
<line x1="173.7" x2="189.2" y1="279.3" y2="279.3" stroke="#1f77b4" stroke-width="1.3"/>
<line x1="173.7" x2="189.2" y1="291.2" y2="291.2" stroke="#1a1a1a" stroke-width="1.1" stroke-dasharray="4 1.7"/>
<text x="195" y="281.9" font-size="8.3" stroke="#000" font-family="Liberation Sans, sans-serif" font-weight="bold" stroke-width="0.28" paint-order="stroke" textLength="44" lengthAdjust="spacingAndGlyphs">y = 152.98</text>
<text x="239.3" y="281.9" font-size="8.3" font-family="Liberation Sans, sans-serif" font-style="italic" textLength="5.2" lengthAdjust="spacingAndGlyphs">e</text>
<text x="244.8" y="279.2" font-size="5.7" stroke="#000" font-family="Liberation Sans, sans-serif" font-weight="bold" stroke-width="0.28" paint-order="stroke" textLength="27" lengthAdjust="spacingAndGlyphs">−0.0634<tspan font-style="italic" font-weight="normal">x</tspan></text>
<text x="195.00" y="293.90" font-size="8.3" text-anchor="start" fill="#000" stroke="#000" font-family="Liberation Sans, sans-serif" font-weight="bold" stroke-width="0.28" paint-order="stroke" textLength="20.75" lengthAdjust="spacingAndGlyphs" >y = 0</text>
<clipPath id="cc"><rect x="337.6" y="268.4" width="241.00" height="234.90"/></clipPath>
<line x1="337.6" x2="578.6" y1="425.00" y2="425.00" stroke="#1a1a1a" stroke-width="1.4" stroke-dasharray="4 2"/>
<rect x="402.3" y="376.3" width="59.4" height="32.8" fill="#cf7272" stroke="#8a8a8a" stroke-width="0.7"/>
<path d="M337.60,355.20 L339.32,356.99 L341.04,358.73 L342.76,360.43 L344.49,362.08 L346.21,363.69 L347.93,365.26 L349.65,366.79 L351.37,368.29 L353.09,369.74 L354.81,371.15 L356.54,372.53 L358.26,373.88 L359.98,375.19 L361.70,376.46 L363.42,377.71 L365.14,378.92 L366.87,380.10 L368.59,381.25 L370.31,382.37 L372.03,383.46 L373.75,384.53 L375.47,385.56 L377.19,386.57 L378.92,387.56 L380.64,388.52 L382.36,389.45 L384.08,390.36 L385.80,391.25 L387.52,392.11 L389.25,392.96 L390.97,393.78 L392.69,394.58 L394.41,395.36 L396.13,396.12 L397.85,396.85 L399.57,397.58 L401.30,398.28 L403.02,398.96 L404.74,399.63 L406.46,400.28 L408.18,400.91 L409.90,401.53 L411.62,402.13 L413.35,402.72 L415.07,403.29 L416.79,403.84 L418.51,404.39 L420.23,404.91 L421.95,405.43 L423.68,405.93 L425.40,406.42 L427.12,406.89 L428.84,407.36 L430.56,407.81 L432.28,408.25 L434.00,408.68 L435.73,409.10 L437.45,409.50 L439.17,409.90 L440.89,410.29 L442.61,410.67 L444.33,411.03 L446.05,411.39 L447.78,411.74 L449.50,412.08 L451.22,412.41 L452.94,412.73 L454.66,413.05 L456.38,413.35 L458.11,413.65 L459.83,413.94 L461.55,414.23 L463.27,414.50 L464.99,414.77 L466.71,415.03 L468.43,415.29 L470.16,415.54 L471.88,415.78 L473.60,416.01 L475.32,416.25 L477.04,416.47 L478.76,416.69 L480.48,416.90 L482.21,417.11 L483.93,417.31 L485.65,417.51 L487.37,417.70 L489.09,417.89 L490.81,418.07 L492.54,418.25 L494.26,418.42 L495.98,418.59 L497.70,418.75 L499.42,418.91 L501.14,419.07 L502.86,419.22 L504.59,419.37 L506.31,419.51 L508.03,419.65 L509.75,419.79 L511.47,419.92 L513.19,420.05 L514.91,420.18 L516.64,420.30 L518.36,420.42 L520.08,420.54 L521.80,420.66 L523.52,420.77 L525.24,420.87 L526.97,420.98 L528.69,421.08 L530.41,421.18 L532.13,421.28 L533.85,421.38 L535.57,421.47 L537.29,421.56 L539.02,421.65 L540.74,421.73 L542.46,421.82 L544.18,421.90 L545.90,421.98 L547.62,422.06 L549.34,422.13 L551.07,422.21 L552.79,422.28 L554.51,422.35 L556.23,422.41 L557.95,422.48 L559.67,422.55 L561.39,422.61 L563.12,422.67 L564.84,422.73 L566.56,422.79 L568.28,422.84 L570.00,422.90 L571.72,422.95 L573.45,423.01 L575.17,423.06 L576.89,423.11 L578.61,423.15" stroke="#1a1f8c" stroke-width="1.3" fill="none" stroke-dasharray="4 1.7" clip-path="url(#cc)"/>
<path d="M337.60,321.49 L339.32,324.10 L341.04,326.64 L342.76,329.12 L344.49,331.53 L346.21,333.89 L347.93,336.19 L349.65,338.42 L351.37,340.61 L353.09,342.73 L354.81,344.81 L356.54,346.83 L358.26,348.80 L359.98,350.72 L361.70,352.59 L363.42,354.41 L365.14,356.19 L366.87,357.93 L368.59,359.62 L370.31,361.27 L372.03,362.87 L373.75,364.44 L375.47,365.96 L377.19,367.45 L378.92,368.90 L380.64,370.32 L382.36,371.69 L384.08,373.04 L385.80,374.35 L387.52,375.62 L389.25,376.87 L390.97,378.08 L392.69,379.26 L394.41,380.42 L396.13,381.54 L397.85,382.64 L399.57,383.70 L401.30,384.74 L403.02,385.76 L404.74,386.75 L406.46,387.71 L408.18,388.65 L409.90,389.57 L411.62,390.46 L413.35,391.33 L415.07,392.18 L416.79,393.01 L418.51,393.81 L420.23,394.60 L421.95,395.36 L423.68,396.11 L425.40,396.84 L427.12,397.55 L428.84,398.24 L430.56,398.92 L432.28,399.57 L434.00,400.21 L435.73,400.84 L437.45,401.45 L439.17,402.04 L440.89,402.62 L442.61,403.18 L444.33,403.73 L446.05,404.27 L447.78,404.79 L449.50,405.30 L451.22,405.80 L452.94,406.28 L454.66,406.75 L456.38,407.21 L458.11,407.66 L459.83,408.10 L461.55,408.52 L463.27,408.94 L464.99,409.34 L466.71,409.74 L468.43,410.12 L470.16,410.50 L471.88,410.86 L473.60,411.22 L475.32,411.57 L477.04,411.91 L478.76,412.24 L480.48,412.56 L482.21,412.87 L483.93,413.18 L485.65,413.47 L487.37,413.77 L489.09,414.05 L490.81,414.32 L492.54,414.59 L494.26,414.86 L495.98,415.11 L497.70,415.36 L499.42,415.60 L501.14,415.84 L502.86,416.07 L504.59,416.30 L506.31,416.52 L508.03,416.73 L509.75,416.94 L511.47,417.14 L513.19,417.34 L514.91,417.53 L516.64,417.72 L518.36,417.90 L520.08,418.08 L521.80,418.26 L523.52,418.43 L525.24,418.59 L526.97,418.75 L528.69,418.91 L530.41,419.06 L532.13,419.21 L533.85,419.36 L535.57,419.50 L537.29,419.64 L539.02,419.78 L540.74,419.91 L542.46,420.04 L544.18,420.16 L545.90,420.28 L547.62,420.40 L549.34,420.52 L551.07,420.63 L552.79,420.74 L554.51,420.85 L556.23,420.95 L557.95,421.05 L559.67,421.15 L561.39,421.25 L563.12,421.35 L564.84,421.44 L566.56,421.53 L568.28,421.62 L570.00,421.70 L571.72,421.78 L573.45,421.86 L575.17,421.94 L576.89,422.02 L578.61,422.10" stroke="#6495ed" stroke-width="1.3" fill="none" stroke-dasharray="4 1.7" clip-path="url(#cc)"/>
<path d="M337.60,289.62 L339.32,292.90 L341.04,296.10 L342.76,299.22 L344.49,302.27 L346.21,305.24 L347.93,308.14 L349.65,310.97 L351.37,313.73 L353.09,316.43 L354.81,319.06 L356.54,321.63 L358.26,324.13 L359.98,326.58 L361.70,328.96 L363.42,331.29 L365.14,333.56 L366.87,335.77 L368.59,337.93 L370.31,340.04 L372.03,342.10 L373.75,344.11 L375.47,346.07 L377.19,347.98 L378.92,349.85 L380.64,351.67 L382.36,353.45 L384.08,355.18 L385.80,356.87 L387.52,358.52 L389.25,360.13 L390.97,361.70 L392.69,363.24 L394.41,364.73 L396.13,366.19 L397.85,367.62 L399.57,369.01 L401.30,370.36 L403.02,371.69 L404.74,372.98 L406.46,374.24 L408.18,375.47 L409.90,376.67 L411.62,377.84 L413.35,378.98 L415.07,380.10 L416.79,381.19 L418.51,382.25 L420.23,383.28 L421.95,384.29 L423.68,385.28 L425.40,386.24 L427.12,387.18 L428.84,388.10 L430.56,388.99 L432.28,389.86 L434.00,390.71 L435.73,391.55 L437.45,392.36 L439.17,393.15 L440.89,393.92 L442.61,394.67 L444.33,395.41 L446.05,396.12 L447.78,396.82 L449.50,397.51 L451.22,398.17 L452.94,398.82 L454.66,399.46 L456.38,400.07 L458.11,400.68 L459.83,401.27 L461.55,401.84 L463.27,402.40 L464.99,402.95 L466.71,403.49 L468.43,404.01 L470.16,404.52 L471.88,405.01 L473.60,405.50 L475.32,405.97 L477.04,406.43 L478.76,406.88 L480.48,407.32 L482.21,407.75 L483.93,408.16 L485.65,408.57 L487.37,408.97 L489.09,409.36 L490.81,409.74 L492.54,410.11 L494.26,410.47 L495.98,410.82 L497.70,411.16 L499.42,411.50 L501.14,411.83 L502.86,412.15 L504.59,412.46 L506.31,412.76 L508.03,413.06 L509.75,413.35 L511.47,413.63 L513.19,413.90 L514.91,414.17 L516.64,414.44 L518.36,414.69 L520.08,414.94 L521.80,415.18 L523.52,415.42 L525.24,415.65 L526.97,415.88 L528.69,416.10 L530.41,416.32 L532.13,416.53 L533.85,416.73 L535.57,416.93 L537.29,417.13 L539.02,417.32 L540.74,417.51 L542.46,417.69 L544.18,417.86 L545.90,418.04 L547.62,418.21 L549.34,418.37 L551.07,418.53 L552.79,418.69 L554.51,418.84 L556.23,418.99 L557.95,419.14 L559.67,419.28 L561.39,419.42 L563.12,419.55 L564.84,419.68 L566.56,419.81 L568.28,419.94 L570.00,420.06 L571.72,420.18 L573.45,420.30 L575.17,420.41 L576.89,420.52 L578.61,420.63" stroke="#fa8072" stroke-width="1.3" fill="none" stroke-dasharray="4 1.7" clip-path="url(#cc)"/>
<path d="M337.60,242.25 L339.32,246.06 L341.04,249.78 L342.76,253.43 L344.49,257.01 L346.21,260.51 L347.93,263.93 L349.65,267.29 L351.37,270.57 L353.09,273.79 L354.81,276.94 L356.54,280.02 L358.26,283.04 L359.98,286.00 L361.70,288.90 L363.42,291.73 L365.14,294.51 L366.87,297.23 L368.59,299.89 L370.31,302.49 L372.03,305.04 L373.75,307.54 L375.47,309.99 L377.19,312.39 L378.92,314.73 L380.64,317.03 L382.36,319.28 L384.08,321.48 L385.80,323.64 L387.52,325.75 L389.25,327.81 L390.97,329.84 L392.69,331.82 L394.41,333.76 L396.13,335.66 L397.85,337.52 L399.57,339.35 L401.30,341.13 L403.02,342.88 L404.74,344.59 L406.46,346.26 L408.18,347.90 L409.90,349.51 L411.62,351.08 L413.35,352.62 L415.07,354.13 L416.79,355.60 L418.51,357.05 L420.23,358.47 L421.95,359.85 L423.68,361.21 L425.40,362.54 L427.12,363.84 L428.84,365.11 L430.56,366.36 L432.28,367.58 L434.00,368.78 L435.73,369.95 L437.45,371.10 L439.17,372.22 L440.89,373.32 L442.61,374.39 L444.33,375.45 L446.05,376.48 L447.78,377.49 L449.50,378.48 L451.22,379.45 L452.94,380.40 L454.66,381.33 L456.38,382.24 L458.11,383.13 L459.83,384.00 L461.55,384.85 L463.27,385.69 L464.99,386.51 L466.71,387.31 L468.43,388.10 L470.16,388.86 L471.88,389.62 L473.60,390.35 L475.32,391.08 L477.04,391.78 L478.76,392.47 L480.48,393.15 L482.21,393.82 L483.93,394.47 L485.65,395.10 L487.37,395.72 L489.09,396.33 L490.81,396.93 L492.54,397.52 L494.26,398.09 L495.98,398.65 L497.70,399.20 L499.42,399.74 L501.14,400.26 L502.86,400.78 L504.59,401.28 L506.31,401.78 L508.03,402.26 L509.75,402.73 L511.47,403.20 L513.19,403.65 L514.91,404.10 L516.64,404.53 L518.36,404.96 L520.08,405.37 L521.80,405.78 L523.52,406.18 L525.24,406.58 L526.97,406.96 L528.69,407.34 L530.41,407.70 L532.13,408.06 L533.85,408.42 L535.57,408.76 L537.29,409.10 L539.02,409.43 L540.74,409.76 L542.46,410.07 L544.18,410.38 L545.90,410.69 L547.62,410.99 L549.34,411.28 L551.07,411.56 L552.79,411.84 L554.51,412.12 L556.23,412.39 L557.95,412.65 L559.67,412.91 L561.39,413.16 L563.12,413.41 L564.84,413.65 L566.56,413.88 L568.28,414.11 L570.00,414.34 L571.72,414.56 L573.45,414.78 L575.17,414.99 L576.89,415.20 L578.61,415.41" stroke="#cd5c5c" stroke-width="1.3" fill="none" stroke-dasharray="4 1.7" clip-path="url(#cc)"/>
<path d="M337.60,180.85 L339.32,185.98 L341.04,191.00 L342.76,195.91 L344.49,200.72 L346.21,205.43 L347.93,210.04 L349.65,214.56 L351.37,218.98 L353.09,223.31 L354.81,227.54 L356.54,231.69 L358.26,235.75 L359.98,239.72 L361.70,243.61 L363.42,247.42 L365.14,251.15 L366.87,254.80 L368.59,258.38 L370.31,261.88 L372.03,265.30 L373.75,268.66 L375.47,271.94 L377.19,275.15 L378.92,278.30 L380.64,281.38 L382.36,284.40 L384.08,287.35 L385.80,290.24 L387.52,293.07 L389.25,295.84 L390.97,298.56 L392.69,301.21 L394.41,303.81 L396.13,306.36 L397.85,308.85 L399.57,311.29 L401.30,313.67 L403.02,316.01 L404.74,318.30 L406.46,320.54 L408.18,322.74 L409.90,324.88 L411.62,326.99 L413.35,329.04 L415.07,331.06 L416.79,333.03 L418.51,334.96 L420.23,336.86 L421.95,338.71 L423.68,340.52 L425.40,342.29 L427.12,344.03 L428.84,345.73 L430.56,347.40 L432.28,349.02 L434.00,350.62 L435.73,352.18 L437.45,353.71 L439.17,355.21 L440.89,356.67 L442.61,358.11 L444.33,359.51 L446.05,360.89 L447.78,362.24 L449.50,363.55 L451.22,364.84 L452.94,366.11 L454.66,367.34 L456.38,368.56 L458.11,369.74 L459.83,370.90 L461.55,372.04 L463.27,373.15 L464.99,374.24 L466.71,375.30 L468.43,376.35 L470.16,377.37 L471.88,378.37 L473.60,379.35 L475.32,380.31 L477.04,381.25 L478.76,382.17 L480.48,383.07 L482.21,383.95 L483.93,384.81 L485.65,385.65 L487.37,386.48 L489.09,387.29 L490.81,388.08 L492.54,388.86 L494.26,389.61 L495.98,390.36 L497.70,391.09 L499.42,391.80 L501.14,392.49 L502.86,393.18 L504.59,393.85 L506.31,394.50 L508.03,395.14 L509.75,395.77 L511.47,396.38 L513.19,396.98 L514.91,397.57 L516.64,398.15 L518.36,398.71 L520.08,399.26 L521.80,399.80 L523.52,400.33 L525.24,400.85 L526.97,401.36 L528.69,401.85 L530.41,402.34 L532.13,402.82 L533.85,403.28 L535.57,403.74 L537.29,404.18 L539.02,404.62 L540.74,405.05 L542.46,405.47 L544.18,405.88 L545.90,406.28 L547.62,406.67 L549.34,407.06 L551.07,407.44 L552.79,407.80 L554.51,408.17 L556.23,408.52 L557.95,408.87 L559.67,409.20 L561.39,409.54 L563.12,409.86 L564.84,410.18 L566.56,410.49 L568.28,410.79 L570.00,411.09 L571.72,411.38 L573.45,411.67 L575.17,411.95 L576.89,412.22 L578.61,412.49" stroke="#8b0000" stroke-width="1.3" fill="none" stroke-dasharray="4 1.7" clip-path="url(#cc)"/>
<g stroke="#111" stroke-width="1.1" fill="none"><line x1="421.1" x2="421.1" y1="343.3" y2="438.6"/><line x1="401.8" x2="461.7" y1="343.3" y2="343.3"/><line x1="401.8" x2="461.7" y1="438.6" y2="438.6"/><line x1="347.4" x2="519.6" y1="393.3" y2="393.3"/><line x1="347.4" x2="347.4" y1="375.8" y2="409.6"/><line x1="519.6" x2="519.6" y1="375.6" y2="409.6"/></g>
<circle cx="421.1" cy="393.3" r="2.3" fill="#000"/>
<line x1="433.2" x2="469.6" y1="372.8" y2="372.8" stroke="#000" stroke-width="2.1"/>
<circle cx="420.3" cy="294.60" r="1.3" fill="#333" stroke="#111" stroke-width="0.4"/>
<circle cx="393.2" cy="302.20" r="1.3" fill="#333" stroke="#111" stroke-width="0.4"/>
<circle cx="388" cy="341.90" r="1.3" fill="#333" stroke="#111" stroke-width="0.4"/>
<circle cx="404.1" cy="340.40" r="1.3" fill="#333" stroke="#111" stroke-width="0.4"/>
<circle cx="414.6" cy="340.40" r="1.3" fill="#333" stroke="#111" stroke-width="0.4"/>
<circle cx="445.5" cy="447.20" r="1.3" fill="#333" stroke="#111" stroke-width="0.4"/>
<circle cx="511.1" cy="442.40" r="1.3" fill="#333" stroke="#111" stroke-width="0.4"/>
<circle cx="501.1" cy="456.70" r="1.3" fill="#333" stroke="#111" stroke-width="0.4"/>
<circle cx="506.8" cy="456.70" r="1.3" fill="#333" stroke="#111" stroke-width="0.4"/>
<circle cx="505.4" cy="463.40" r="1.3" fill="#333" stroke="#111" stroke-width="0.4"/>
<circle cx="523" cy="459.50" r="1.3" fill="#333" stroke="#111" stroke-width="0.4"/>
<rect x="337.6" y="268.4" width="241.00" height="234.90" fill="none" stroke="#333333" stroke-width="0.9"/>
<line x1="335.0" x2="337.6" y1="503.30" y2="503.30" stroke="#333333" stroke-width="0.9"/>
<text x="332.40" y="506.00" font-size="8.3" text-anchor="end" fill="#000" stroke="#000" font-family="Liberation Sans, sans-serif" font-weight="bold" stroke-width="0.28" paint-order="stroke" textLength="21.07" lengthAdjust="spacingAndGlyphs" >−150</text>
<line x1="335.0" x2="337.6" y1="477.20" y2="477.20" stroke="#333333" stroke-width="0.9"/>
<text x="332.40" y="479.90" font-size="8.3" text-anchor="end" fill="#000" stroke="#000" font-family="Liberation Sans, sans-serif" font-weight="bold" stroke-width="0.28" paint-order="stroke" textLength="21.07" lengthAdjust="spacingAndGlyphs" >−100</text>
<line x1="335.0" x2="337.6" y1="451.10" y2="451.10" stroke="#333333" stroke-width="0.9"/>
<text x="332.40" y="453.80" font-size="8.3" text-anchor="end" fill="#000" stroke="#000" font-family="Liberation Sans, sans-serif" font-weight="bold" stroke-width="0.28" paint-order="stroke" textLength="16.06" lengthAdjust="spacingAndGlyphs" >−50</text>
<line x1="335.0" x2="337.6" y1="425.00" y2="425.00" stroke="#333333" stroke-width="0.9"/>
<text x="332.40" y="427.70" font-size="8.3" text-anchor="end" fill="#000" stroke="#000" font-family="Liberation Sans, sans-serif" font-weight="bold" stroke-width="0.28" paint-order="stroke" textLength="5.01" lengthAdjust="spacingAndGlyphs" >0</text>
<line x1="335.0" x2="337.6" y1="398.90" y2="398.90" stroke="#333333" stroke-width="0.9"/>
<text x="332.40" y="401.60" font-size="8.3" text-anchor="end" fill="#000" stroke="#000" font-family="Liberation Sans, sans-serif" font-weight="bold" stroke-width="0.28" paint-order="stroke" textLength="10.02" lengthAdjust="spacingAndGlyphs" >50</text>
<line x1="335.0" x2="337.6" y1="372.80" y2="372.80" stroke="#333333" stroke-width="0.9"/>
<text x="332.40" y="375.50" font-size="8.3" text-anchor="end" fill="#000" stroke="#000" font-family="Liberation Sans, sans-serif" font-weight="bold" stroke-width="0.28" paint-order="stroke" textLength="15.03" lengthAdjust="spacingAndGlyphs" >100</text>
<line x1="335.0" x2="337.6" y1="346.70" y2="346.70" stroke="#333333" stroke-width="0.9"/>
<text x="332.40" y="349.40" font-size="8.3" text-anchor="end" fill="#000" stroke="#000" font-family="Liberation Sans, sans-serif" font-weight="bold" stroke-width="0.28" paint-order="stroke" textLength="15.03" lengthAdjust="spacingAndGlyphs" >150</text>
<line x1="335.0" x2="337.6" y1="320.60" y2="320.60" stroke="#333333" stroke-width="0.9"/>
<text x="332.40" y="323.30" font-size="8.3" text-anchor="end" fill="#000" stroke="#000" font-family="Liberation Sans, sans-serif" font-weight="bold" stroke-width="0.28" paint-order="stroke" textLength="15.03" lengthAdjust="spacingAndGlyphs" >200</text>
<line x1="335.0" x2="337.6" y1="294.50" y2="294.50" stroke="#333333" stroke-width="0.9"/>
<text x="332.40" y="297.20" font-size="8.3" text-anchor="end" fill="#000" stroke="#000" font-family="Liberation Sans, sans-serif" font-weight="bold" stroke-width="0.28" paint-order="stroke" textLength="15.03" lengthAdjust="spacingAndGlyphs" >250</text>
<line x1="335.0" x2="337.6" y1="268.40" y2="268.40" stroke="#333333" stroke-width="0.9"/>
<text x="332.40" y="271.10" font-size="8.3" text-anchor="end" fill="#000" stroke="#000" font-family="Liberation Sans, sans-serif" font-weight="bold" stroke-width="0.28" paint-order="stroke" textLength="15.03" lengthAdjust="spacingAndGlyphs" >300</text>
<line x1="337.60" x2="337.60" y1="503.3" y2="505.90000000000003" stroke="#333333" stroke-width="0.9"/>
<text x="337.60" y="514.90" font-size="8.3" text-anchor="middle" fill="#000" stroke="#000" font-family="Liberation Sans, sans-serif" font-weight="bold" stroke-width="0.28" paint-order="stroke" textLength="16.06" lengthAdjust="spacingAndGlyphs" >−30</text>
<line x1="372.03" x2="372.03" y1="503.3" y2="505.90000000000003" stroke="#333333" stroke-width="0.9"/>
<text x="372.03" y="514.90" font-size="8.3" text-anchor="middle" fill="#000" stroke="#000" font-family="Liberation Sans, sans-serif" font-weight="bold" stroke-width="0.28" paint-order="stroke" textLength="16.06" lengthAdjust="spacingAndGlyphs" >−25</text>
<line x1="406.46" x2="406.46" y1="503.3" y2="505.90000000000003" stroke="#333333" stroke-width="0.9"/>
<text x="406.46" y="514.90" font-size="8.3" text-anchor="middle" fill="#000" stroke="#000" font-family="Liberation Sans, sans-serif" font-weight="bold" stroke-width="0.28" paint-order="stroke" textLength="16.06" lengthAdjust="spacingAndGlyphs" >−20</text>
<line x1="440.89" x2="440.89" y1="503.3" y2="505.90000000000003" stroke="#333333" stroke-width="0.9"/>
<text x="440.89" y="514.90" font-size="8.3" text-anchor="middle" fill="#000" stroke="#000" font-family="Liberation Sans, sans-serif" font-weight="bold" stroke-width="0.28" paint-order="stroke" textLength="16.06" lengthAdjust="spacingAndGlyphs" >−15</text>
<line x1="475.32" x2="475.32" y1="503.3" y2="505.90000000000003" stroke="#333333" stroke-width="0.9"/>
<text x="475.32" y="514.90" font-size="8.3" text-anchor="middle" fill="#000" stroke="#000" font-family="Liberation Sans, sans-serif" font-weight="bold" stroke-width="0.28" paint-order="stroke" textLength="16.06" lengthAdjust="spacingAndGlyphs" >−10</text>
<line x1="509.75" x2="509.75" y1="503.3" y2="505.90000000000003" stroke="#333333" stroke-width="0.9"/>
<text x="509.75" y="514.90" font-size="8.3" text-anchor="middle" fill="#000" stroke="#000" font-family="Liberation Sans, sans-serif" font-weight="bold" stroke-width="0.28" paint-order="stroke" textLength="11.04" lengthAdjust="spacingAndGlyphs" >−5</text>
<line x1="544.18" x2="544.18" y1="503.3" y2="505.90000000000003" stroke="#333333" stroke-width="0.9"/>
<text x="544.18" y="514.90" font-size="8.3" text-anchor="middle" fill="#000" stroke="#000" font-family="Liberation Sans, sans-serif" font-weight="bold" stroke-width="0.28" paint-order="stroke" textLength="5.01" lengthAdjust="spacingAndGlyphs" >0</text>
<line x1="578.61" x2="578.61" y1="503.3" y2="505.90000000000003" stroke="#333333" stroke-width="0.9"/>
<text x="578.61" y="514.90" font-size="8.3" text-anchor="middle" fill="#000" stroke="#000" font-family="Liberation Sans, sans-serif" font-weight="bold" stroke-width="0.28" paint-order="stroke" textLength="5.01" lengthAdjust="spacingAndGlyphs" >5</text>
<text x="458.10" y="524.10" font-size="8.3" text-anchor="middle" fill="#000" stroke="#000" font-family="Liberation Sans, sans-serif" font-weight="bold" stroke-width="0.28" paint-order="stroke" textLength="58.98" lengthAdjust="spacingAndGlyphs" >Average T (°C)</text>
<text x="0" y="0" font-size="8.3" text-anchor="middle" fill="#000" stroke="#000" font-family="Liberation Sans, sans-serif" font-weight="bold" stroke-width="0.28" paint-order="stroke" textLength="42.89" lengthAdjust="spacingAndGlyphs" transform="translate(306.90 385.70) rotate(-90)"><tspan font-size="8.3">ΔT (K m</tspan><tspan font-size="5.7" dy="-3.0">−1</tspan><tspan font-size="8.3" dy="3.0">)</tspan></text>
<text x="358.70" y="305.20" font-size="8.6" text-anchor="start" fill="#000" stroke="#000" font-family="Liberation Sans, sans-serif" font-weight="bold" stroke-width="0.28" paint-order="stroke" textLength="9.05" lengthAdjust="spacingAndGlyphs" >c)</text>
<rect x="469.5" y="272.4" width="105.4" height="88.4" rx="1.5" fill="#fff" fill-opacity="0.8" stroke="#d0d0d0" stroke-width="0.8"/>
<line x1="471.8" x2="487.5" y1="278.10" y2="278.10" stroke="#1a1f8c" stroke-width="1.1" stroke-dasharray="4 1.7"/>
<text x="493.60" y="280.70" font-size="8.3" text-anchor="start" fill="#000" stroke="#000" font-family="Liberation Sans, sans-serif" font-weight="bold" stroke-width="0.28" paint-order="stroke" textLength="46.47" lengthAdjust="spacingAndGlyphs" >5.0 mbar/m</text>
<line x1="471.8" x2="487.5" y1="288.96" y2="288.96" stroke="#6495ed" stroke-width="1.1" stroke-dasharray="4 1.7"/>
<text x="493.60" y="291.56" font-size="8.3" text-anchor="start" fill="#000" stroke="#000" font-family="Liberation Sans, sans-serif" font-weight="bold" stroke-width="0.28" paint-order="stroke" textLength="46.47" lengthAdjust="spacingAndGlyphs" >7.0 mbar/m</text>
<line x1="471.8" x2="487.5" y1="299.82" y2="299.82" stroke="#fa8072" stroke-width="1.1" stroke-dasharray="4 1.7"/>
<text x="493.60" y="302.42" font-size="8.3" text-anchor="start" fill="#000" stroke="#000" font-family="Liberation Sans, sans-serif" font-weight="bold" stroke-width="0.28" paint-order="stroke" textLength="51.48" lengthAdjust="spacingAndGlyphs" >10.0 mbar/m</text>
<line x1="471.8" x2="487.5" y1="310.68" y2="310.68" stroke="#cd5c5c" stroke-width="1.1" stroke-dasharray="4 1.7"/>
<text x="493.60" y="313.28" font-size="8.3" text-anchor="start" fill="#000" stroke="#000" font-family="Liberation Sans, sans-serif" font-weight="bold" stroke-width="0.28" paint-order="stroke" textLength="51.48" lengthAdjust="spacingAndGlyphs" >15.0 mbar/m</text>
<line x1="471.8" x2="487.5" y1="321.54" y2="321.54" stroke="#8b0000" stroke-width="1.1" stroke-dasharray="4 1.7"/>
<text x="493.60" y="324.14" font-size="8.3" text-anchor="start" fill="#000" stroke="#000" font-family="Liberation Sans, sans-serif" font-weight="bold" stroke-width="0.28" paint-order="stroke" textLength="51.48" lengthAdjust="spacingAndGlyphs" >20.0 mbar/m</text>
<line x1="471.8" x2="487.5" y1="332.40" y2="332.40" stroke="#1a1a1a" stroke-width="1.1" stroke-dasharray="4 1.7"/>
<text x="493.60" y="335.00" font-size="8.3" text-anchor="start" fill="#000" stroke="#000" font-family="Liberation Sans, sans-serif" font-weight="bold" stroke-width="0.28" paint-order="stroke" textLength="20.75" lengthAdjust="spacingAndGlyphs" >y = 0</text>
<line x1="471.8" x2="487.5" y1="343.26" y2="343.26" stroke="#000" stroke-width="2.1"/>
<text x="493.60" y="345.86" font-size="8.3" text-anchor="start" fill="#000" stroke="#000" font-family="Liberation Sans, sans-serif" font-weight="bold" stroke-width="0.28" paint-order="stroke" textLength="77.00" lengthAdjust="spacingAndGlyphs" >Wiese et al. (2017)</text>
<circle cx="479.6" cy="354.12" r="1.1" fill="#444" stroke="#111" stroke-width="0.3"/>
<text x="493.60" y="356.72" font-size="8.3" text-anchor="start" fill="#000" stroke="#000" font-family="Liberation Sans, sans-serif" font-weight="bold" stroke-width="0.28" paint-order="stroke" textLength="32.34" lengthAdjust="spacingAndGlyphs" >Outliers</text>
</svg></body></html>
